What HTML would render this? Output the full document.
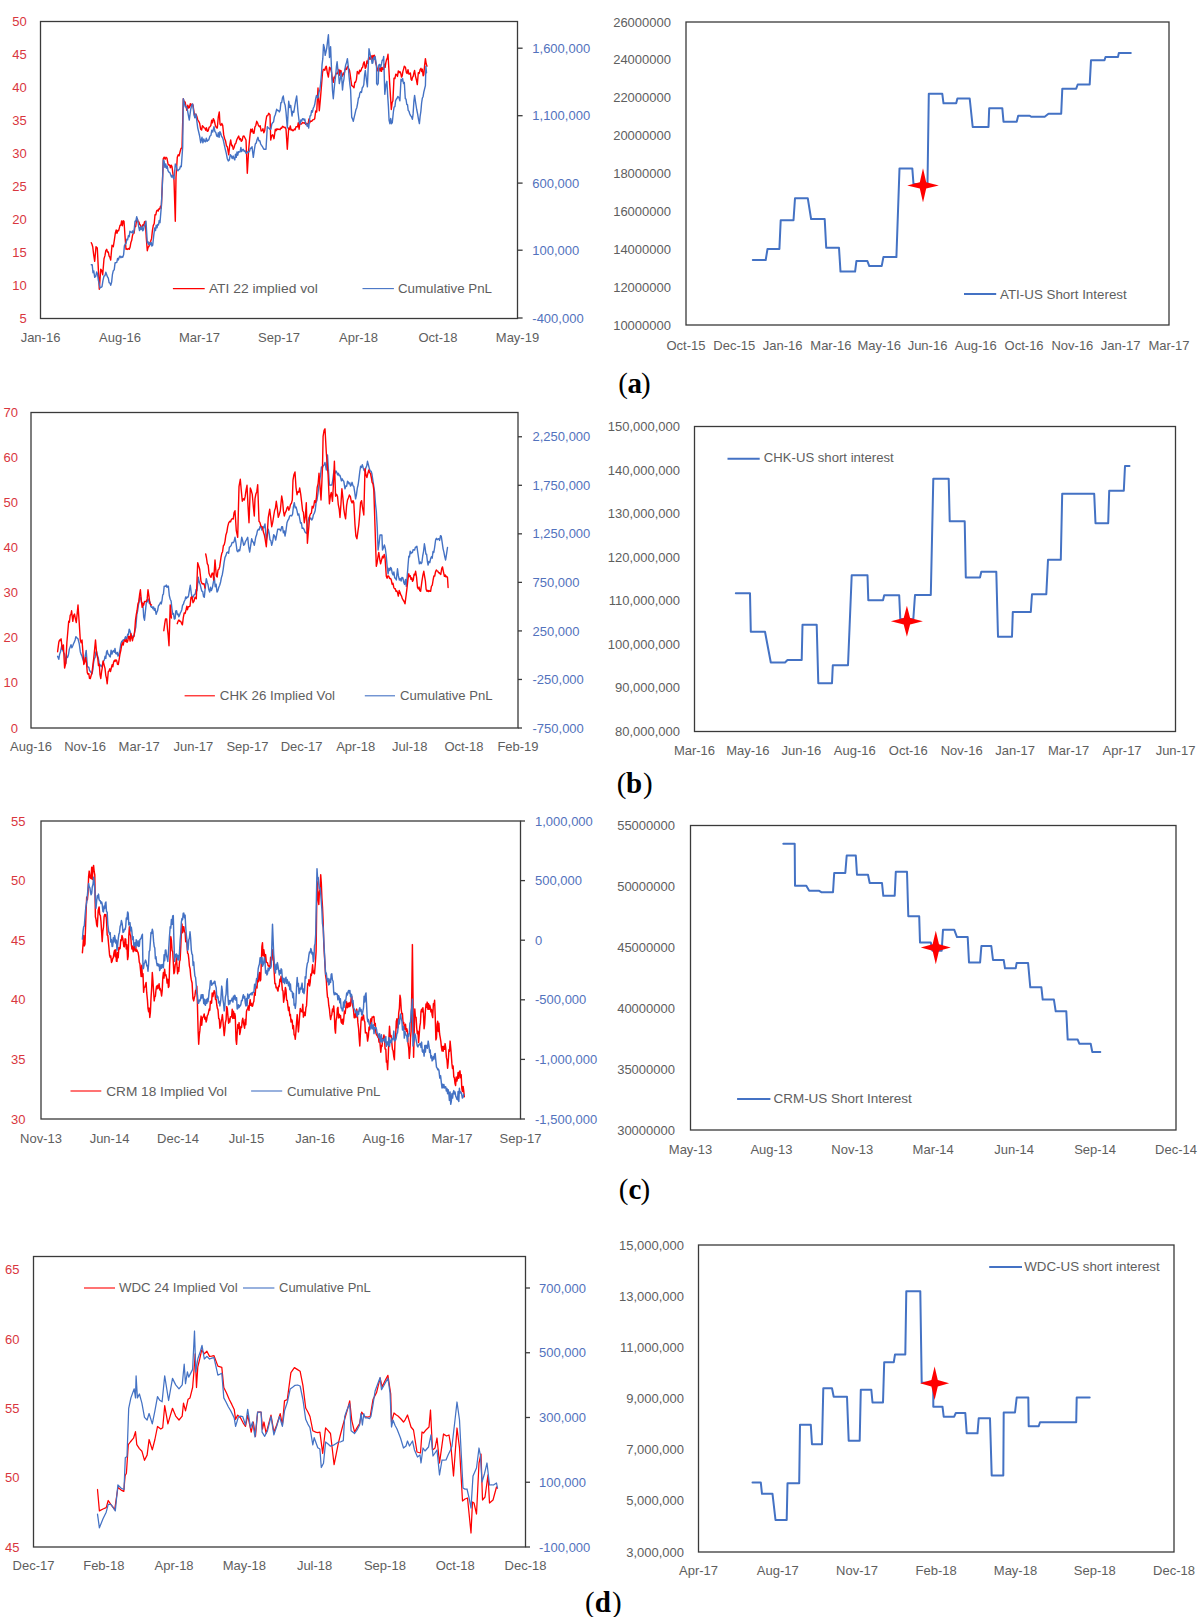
<!DOCTYPE html>
<html><head><meta charset="utf-8"><style>
html,body{margin:0;padding:0;background:#fff;}
svg{display:block;}
</style></head><body>
<svg width="1200" height="1617" viewBox="0 0 1200 1617">
<rect x="0" y="0" width="1200" height="1617" fill="#fff"/>
<rect x="40.5" y="21.5" width="477.0" height="297.0" fill="none" stroke="#3a3a3a" stroke-width="1.3"/>
<text x="26.8" y="26.0" text-anchor="end" fill="#d9363e" font-size="13" font-family="'Liberation Sans', sans-serif" font-weight="normal">50</text>
<text x="26.8" y="59.0" text-anchor="end" fill="#d9363e" font-size="13" font-family="'Liberation Sans', sans-serif" font-weight="normal">45</text>
<text x="26.8" y="92.0" text-anchor="end" fill="#d9363e" font-size="13" font-family="'Liberation Sans', sans-serif" font-weight="normal">40</text>
<text x="26.8" y="125.0" text-anchor="end" fill="#d9363e" font-size="13" font-family="'Liberation Sans', sans-serif" font-weight="normal">35</text>
<text x="26.8" y="158.0" text-anchor="end" fill="#d9363e" font-size="13" font-family="'Liberation Sans', sans-serif" font-weight="normal">30</text>
<text x="26.8" y="191.0" text-anchor="end" fill="#d9363e" font-size="13" font-family="'Liberation Sans', sans-serif" font-weight="normal">25</text>
<text x="26.8" y="224.0" text-anchor="end" fill="#d9363e" font-size="13" font-family="'Liberation Sans', sans-serif" font-weight="normal">20</text>
<text x="26.8" y="257.0" text-anchor="end" fill="#d9363e" font-size="13" font-family="'Liberation Sans', sans-serif" font-weight="normal">15</text>
<text x="26.8" y="290.0" text-anchor="end" fill="#d9363e" font-size="13" font-family="'Liberation Sans', sans-serif" font-weight="normal">10</text>
<text x="26.8" y="323.0" text-anchor="end" fill="#d9363e" font-size="13" font-family="'Liberation Sans', sans-serif" font-weight="normal">5</text>
<line x1="517.5" y1="48.2" x2="522.6" y2="48.2" stroke="#3a3a3a" stroke-width="1.3"/>
<text x="532.3" y="52.8" text-anchor="start" fill="#5272bd" font-size="13" font-family="'Liberation Sans', sans-serif" font-weight="normal">1,600,000</text>
<line x1="517.5" y1="115.7" x2="522.6" y2="115.7" stroke="#3a3a3a" stroke-width="1.3"/>
<text x="532.3" y="120.3" text-anchor="start" fill="#5272bd" font-size="13" font-family="'Liberation Sans', sans-serif" font-weight="normal">1,100,000</text>
<line x1="517.5" y1="183.1" x2="522.6" y2="183.1" stroke="#3a3a3a" stroke-width="1.3"/>
<text x="532.3" y="187.7" text-anchor="start" fill="#5272bd" font-size="13" font-family="'Liberation Sans', sans-serif" font-weight="normal">600,000</text>
<line x1="517.5" y1="250.2" x2="522.6" y2="250.2" stroke="#3a3a3a" stroke-width="1.3"/>
<text x="532.3" y="254.8" text-anchor="start" fill="#5272bd" font-size="13" font-family="'Liberation Sans', sans-serif" font-weight="normal">100,000</text>
<line x1="517.5" y1="318" x2="522.6" y2="318" stroke="#3a3a3a" stroke-width="1.3"/>
<text x="532.3" y="322.6" text-anchor="start" fill="#5272bd" font-size="13" font-family="'Liberation Sans', sans-serif" font-weight="normal">-400,000</text>
<text x="40.5" y="341.5" text-anchor="middle" fill="#5e5e5e" font-size="13" font-family="'Liberation Sans', sans-serif" font-weight="normal">Jan-16</text>
<text x="120.0" y="341.5" text-anchor="middle" fill="#5e5e5e" font-size="13" font-family="'Liberation Sans', sans-serif" font-weight="normal">Aug-16</text>
<text x="199.5" y="341.5" text-anchor="middle" fill="#5e5e5e" font-size="13" font-family="'Liberation Sans', sans-serif" font-weight="normal">Mar-17</text>
<text x="279.0" y="341.5" text-anchor="middle" fill="#5e5e5e" font-size="13" font-family="'Liberation Sans', sans-serif" font-weight="normal">Sep-17</text>
<text x="358.5" y="341.5" text-anchor="middle" fill="#5e5e5e" font-size="13" font-family="'Liberation Sans', sans-serif" font-weight="normal">Apr-18</text>
<text x="438.0" y="341.5" text-anchor="middle" fill="#5e5e5e" font-size="13" font-family="'Liberation Sans', sans-serif" font-weight="normal">Oct-18</text>
<text x="517.5" y="341.5" text-anchor="middle" fill="#5e5e5e" font-size="13" font-family="'Liberation Sans', sans-serif" font-weight="normal">May-19</text>
<polyline points="91.3,242.7 92.0,244.3 92.7,246.7 93.7,254.8 94.7,261.3 96.0,246.7 97.3,248.0 98.3,268.3 99.3,289.3 100.0,279.8 100.7,269.3 101.7,270.5 102.7,274.7 104.0,258.7 104.9,255.9 105.8,250.7 106.7,249.3 107.5,252.1 108.3,251.9 109.1,256.1 109.9,257.2 110.7,260.0 112.0,245.3 113.3,246.7 114.3,240.3 115.3,233.3 116.2,230.0 117.0,233.4 117.8,230.5 118.7,230.7 120.0,225.3 120.8,225.3 121.6,221.0 122.4,225.7 123.2,220.7 124.0,221.3 125.0,236.0 126.0,249.3 126.8,248.8 127.7,249.4 128.5,248.5 129.3,249.3 130.1,247.1 130.9,242.4 131.7,240.3 132.5,235.4 133.3,233.3 134.1,233.1 134.9,226.6 135.7,226.5 136.5,220.6 137.3,218.7 138.1,221.7 138.9,221.9 139.7,224.5 140.5,225.1 141.3,228.0 142.1,227.1 142.9,224.6 143.7,225.5 144.5,221.8 145.3,221.3 146.3,238.0 147.3,250.7 148.2,247.1 149.0,246.4 149.8,243.0 150.7,241.3 151.6,238.4 152.4,230.6 153.3,225.3 154.2,223.7 155.0,214.8 155.8,214.9 156.7,210.7 157.5,210.1 158.2,211.1 159.0,208.6 159.8,209.0 160.5,206.1 161.3,208.0 162.3,184.7 163.3,158.7 164.2,157.2 165.1,159.3 166.0,157.3 167.0,158.3 168.0,164.0 168.8,165.1 169.6,164.9 170.4,167.7 171.2,165.2 172.0,166.7 173.0,174.3 174.0,180.0 175.3,221.3 176.0,177.3 177.3,157.3 178.2,154.8 179.1,155.8 180.0,152.0 181.0,148.5 182.0,148.0 183.3,98.7 184.2,102.2 185.1,102.0 186.0,106.7 186.9,110.4 187.8,105.2 188.7,108.0 189.5,107.4 190.3,103.7 191.2,105.9 192.0,104.0 193.0,105.0 194.0,112.0 194.9,117.4 195.8,114.1 196.7,116.0 197.7,119.8 198.7,121.3 199.7,123.5 200.7,129.3 201.6,130.0 202.4,125.8 203.3,126.7 204.1,127.9 204.9,128.1 205.7,130.2 206.5,127.8 207.3,131.3 208.2,130.8 209.1,127.4 210.0,126.7 210.8,125.6 211.7,120.2 212.5,122.8 213.3,118.7 214.3,120.5 215.3,125.3 216.3,127.5 217.3,128.0 218.3,116.8 219.3,112.0 220.0,124.0 220.9,125.4 221.8,123.5 222.7,125.3 223.7,134.9 224.7,138.7 225.6,141.1 226.4,145.7 227.3,146.7 228.7,154.7 229.7,145.3 230.7,140.0 231.6,145.7 232.4,145.3 233.3,149.3 234.2,147.2 235.0,144.1 235.8,143.4 236.7,140.0 237.7,137.8 238.7,136.0 239.6,139.6 240.4,138.5 241.3,141.3 242.2,140.2 243.1,136.1 244.0,136.0 245.0,138.0 246.0,140.0 247.3,173.3 248.7,149.3 249.7,137.9 250.7,129.3 251.5,131.8 252.3,129.0 253.2,133.0 254.0,133.3 254.9,127.1 255.8,125.5 256.7,121.3 257.6,122.9 258.4,125.4 259.3,126.7 260.2,125.8 261.1,131.0 262.0,130.7 262.9,128.7 263.8,132.7 264.7,130.7 265.7,122.1 266.7,116.0 267.7,115.7 268.7,113.3 270.0,114.7 270.7,140.0 271.7,135.5 272.7,134.7 274.0,138.7 275.3,129.3 276.1,130.7 276.9,128.7 277.7,129.5 278.5,129.1 279.3,129.3 280.1,129.7 280.9,128.0 281.7,128.2 282.5,126.3 283.3,126.7 284.2,127.6 285.1,127.2 286.0,129.3 287.3,149.3 288.7,128.0 289.5,129.4 290.3,125.9 291.1,130.1 291.9,129.5 292.7,130.7 293.5,130.5 294.3,129.1 295.1,129.8 295.9,127.0 296.7,126.7 297.5,126.8 298.3,122.7 299.1,129.2 299.9,122.7 300.7,124.0 301.6,124.0 302.4,122.5 303.3,122.7 304.1,123.3 304.9,122.5 305.7,124.5 306.5,123.3 307.3,124.0 308.1,124.3 308.9,119.0 309.7,122.9 310.5,121.0 311.3,121.3 312.1,120.8 313.0,119.6 313.9,119.5 314.7,118.7 315.7,111.0 316.7,112.0 318.0,88.0 319.3,110.7 320.3,100.1 321.3,88.0 322.5,72.7 323.3,69.4 324.1,69.4 324.8,70.2 325.6,67.2 326.3,66.2 327.4,73.1 328.4,77.0 329.5,67.3 330.5,68.3 331.5,72.0 332.4,79.6 333.3,82.4 334.0,77.1 334.8,77.9 335.5,74.8 336.4,73.2 337.3,73.7 338.2,71.6 338.9,69.5 339.6,75.2 340.3,70.5 341.0,70.6 341.8,76.4 342.5,75.9 343.3,72.9 344.1,74.5 345.0,69.9 345.8,68.3 346.5,69.5 347.3,66.7 348.0,66.2 348.7,69.0 349.4,70.0 350.1,73.8 350.9,80.0 351.7,85.7 352.5,86.1 353.3,86.8 354.0,87.8 354.8,82.2 355.5,82.4 356.4,79.6 357.3,71.5 358.2,72.7 358.9,74.0 359.6,70.1 360.3,71.5 361.0,70.5 361.8,68.1 362.6,67.3 363.4,63.6 364.2,61.8 365.3,68.3 366.1,66.9 366.9,61.0 367.7,63.4 368.5,58.6 369.2,57.2 370.0,59.4 370.7,57.5 371.4,55.9 372.1,59.9 372.9,55.5 373.6,58.7 374.3,55.1 375.0,57.5 375.7,63.0 376.5,65.4 377.2,69.4 377.9,70.9 378.6,67.4 379.3,68.3 380.0,71.0 380.8,67.2 381.5,71.3 382.2,67.5 383.0,69.5 383.7,69.4 384.4,64.1 385.1,67.3 385.8,62.9 386.5,59.9 387.3,58.1 388.0,54.3 388.8,67.7 389.6,82.4 390.5,96.6 391.3,109.5 392.1,102.8 392.9,100.8 394.0,78.1 394.9,78.6 395.8,74.1 396.7,74.8 397.5,76.4 398.3,70.9 399.1,72.7 399.9,71.6 400.7,73.1 401.5,77.0 402.2,75.9 402.9,71.4 403.6,69.1 404.3,66.2 405.4,67.2 406.4,72.7 407.2,73.4 408.0,69.6 408.9,74.1 409.7,73.8 410.4,73.0 411.1,79.4 411.8,80.3 412.5,77.3 413.2,76.4 413.9,72.9 414.6,70.5 415.5,76.5 416.4,79.8 417.3,84.6 418.3,72.7 419.2,73.4 420.1,69.7 421.0,68.3 421.7,71.6 422.4,69.2 423.1,75.8 423.8,74.8 424.6,65.6 425.4,58.6 426.2,63.8 427.0,66.2" fill="none" stroke="#ff0000" stroke-width="1.4" stroke-linejoin="round" stroke-linecap="round" opacity="1.0"/>
<polyline points="91.3,264.7 92.2,264.8 93.0,272.7 93.8,271.0 94.7,277.3 95.7,276.4 96.7,272.0 97.5,274.0 98.3,280.0 99.2,283.7 100.0,288.0 101.0,287.4 102.0,286.7 103.0,280.4 104.0,276.0 104.9,275.9 105.8,272.3 106.7,274.7 107.5,276.9 108.3,278.1 109.1,282.7 109.9,282.9 110.7,285.3 111.6,282.4 112.4,274.7 113.3,270.7 114.2,269.8 115.1,262.7 116.0,262.7 116.8,262.3 117.6,258.4 118.4,259.9 119.2,257.3 120.0,256.0 120.9,257.7 121.8,256.6 122.7,257.3 123.6,254.8 124.4,245.9 125.3,244.0 126.1,243.3 126.8,239.1 127.6,239.8 128.4,235.7 129.2,236.7 129.9,231.3 130.7,232.0 131.6,232.6 132.4,231.0 133.3,233.3 134.2,229.7 135.0,221.2 135.8,221.4 136.7,216.7 137.7,220.7 138.7,226.7 139.5,230.6 140.3,227.1 141.1,229.5 141.9,226.3 142.7,230.7 143.5,229.8 144.3,225.5 145.2,224.4 146.0,221.3 147.3,242.7 148.1,241.8 148.8,244.6 149.6,242.7 150.4,244.7 151.2,242.4 151.9,246.0 152.7,245.3 153.7,235.9 154.7,228.0 155.5,230.6 156.2,225.1 157.0,227.8 157.7,224.5 158.5,225.0 159.2,220.4 160.0,222.7 161.3,206.7 162.3,186.2 163.3,160.0 164.1,161.0 164.9,167.4 165.7,163.9 166.4,168.2 167.2,165.9 168.0,170.7 168.9,172.2 169.8,172.5 170.7,174.7 171.5,177.1 172.3,175.3 173.2,177.8 174.0,178.7 175.3,164.0 176.2,165.8 177.1,169.8 178.0,170.7 178.8,169.6 179.7,169.0 180.5,166.1 181.3,166.7 182.7,146.7 183.3,98.7 184.3,103.3 185.3,106.7 186.3,106.6 187.3,109.3 188.3,114.8 189.3,120.0 190.7,109.3 191.7,105.3 192.7,104.0 194.0,114.7 194.9,117.8 195.8,114.0 196.7,120.0 197.7,127.8 198.7,132.0 199.7,136.3 200.7,142.7 202.0,137.3 202.9,142.8 203.8,139.0 204.7,141.3 205.5,141.8 206.3,138.1 207.1,141.2 207.9,140.2 208.7,140.0 210.0,136.0 210.9,135.5 211.8,130.2 212.7,132.0 214.0,126.7 214.9,131.5 215.8,132.4 216.7,136.0 217.5,136.6 218.3,132.8 219.1,137.3 219.9,131.6 220.7,133.3 221.6,136.6 222.4,137.3 223.3,140.0 224.3,144.9 225.3,149.3 226.3,153.4 227.3,158.7 228.3,160.9 229.3,160.0 230.3,154.6 231.3,156.0 232.2,158.6 233.1,155.9 234.0,158.7 234.8,159.9 235.5,154.1 236.3,157.4 237.0,152.0 237.8,155.2 238.5,151.6 239.3,152.0 240.1,151.9 240.9,147.5 241.7,151.6 242.5,149.7 243.3,149.3 244.2,151.5 245.1,150.8 246.0,153.3 246.9,153.1 247.8,151.7 248.7,152.0 249.5,151.3 250.3,148.3 251.2,148.4 252.0,146.7 253.3,157.3 254.3,150.1 255.3,144.0 256.2,143.0 257.1,139.5 258.0,137.3 258.9,140.9 259.8,140.8 260.7,144.0 261.5,145.3 262.4,146.5 263.2,148.2 264.0,149.3 265.0,149.3 266.0,149.3 267.3,126.7 268.2,127.8 269.1,128.2 270.0,129.3 270.9,129.1 271.8,124.2 272.7,122.7 273.6,121.7 274.4,116.7 275.3,114.7 276.7,109.3 277.6,110.5 278.4,110.4 279.3,112.0 280.1,110.3 280.9,102.6 281.7,102.5 282.5,97.7 283.3,96.0 284.2,102.5 285.1,104.9 286.0,112.0 287.3,128.0 288.7,101.3 289.7,107.5 290.7,105.3 292.0,116.0 292.9,111.2 293.8,112.3 294.7,106.7 295.7,100.7 296.7,96.0 298.0,112.0 299.3,122.7 300.1,124.1 300.9,119.9 301.7,121.1 302.5,118.7 303.3,118.7 304.1,120.3 304.8,119.0 305.6,123.8 306.4,124.0 307.2,126.3 307.9,124.0 308.7,128.0 310.0,116.0 310.8,115.7 311.6,110.6 312.4,112.2 313.2,108.3 314.0,106.7 314.8,104.1 315.7,98.7 316.5,95.4 317.6,98.0 318.3,97.0 319.1,91.7 319.8,90.0 320.6,83.9 321.4,74.8 322.1,64.4 322.8,58.7 323.5,44.5 324.4,47.9 325.2,55.3 326.0,51.9 326.8,47.8 327.6,41.2 328.4,34.8 329.5,57.5 330.6,46.7 331.7,73.8 332.5,90.4 333.3,98.7 334.1,89.5 334.9,81.3 335.6,76.2 336.4,66.7 337.1,61.8 337.8,69.0 338.6,74.4 339.3,83.5 340.4,78.4 341.4,72.7 342.5,90.0 343.2,82.9 344.0,78.8 344.7,70.5 345.6,65.3 346.5,62.6 347.4,58.6 348.2,65.9 349.0,75.9 349.8,83.8 350.6,90.0 351.7,117.1 352.5,118.9 353.3,121.4 354.1,117.7 355.0,113.8 355.9,109.8 356.8,107.7 357.7,103.0 358.4,98.1 359.1,97.5 359.8,93.3 360.6,91.7 361.5,92.4 362.3,87.7 363.1,86.8 363.8,84.6 364.6,74.8 365.3,70.5 366.4,79.6 367.4,86.8 368.2,66.9 369.0,48.8 369.9,53.2 370.7,57.5 371.4,58.9 372.1,63.4 372.8,62.9 373.5,57.8 374.3,59.4 375.0,56.4 375.8,60.6 376.6,68.3 376.6,83.5 377.4,84.9 378.2,83.5 378.8,65.1 379.7,64.4 380.6,67.3 381.5,64.0 382.2,60.2 383.0,60.4 383.7,56.4 384.8,94.3 385.9,84.8 386.9,81.3 387.6,94.4 388.4,106.3 389.1,120.3 389.9,123.7 390.7,118.5 391.5,123.7 392.3,122.5 393.4,111.7 394.1,107.1 394.9,106.7 395.6,100.8 396.3,99.3 397.1,98.3 397.8,96.5 398.9,97.6 399.9,100.8 401.0,79.2 401.8,81.1 402.6,78.4 403.5,83.5 404.3,82.4 405.3,98.7 406.0,99.1 406.8,104.5 407.5,104.6 408.2,110.5 409.0,111.2 409.7,113.8 410.6,115.6 411.5,116.7 412.4,119.3 413.1,113.9 413.9,101.4 414.6,95.4 415.6,102.5 416.7,109.5 417.6,113.9 418.5,119.4 419.4,123.6 420.1,116.6 420.9,111.1 421.6,103.0 422.3,98.3 423.1,96.4 423.8,92.2 424.6,88.8 425.4,85.7 425.9,66.2 426.5,72.7" fill="none" stroke="#4472c4" stroke-width="1.4" stroke-linejoin="round" stroke-linecap="round" opacity="1.0"/>
<line x1="172.9" y1="288.6" x2="204.7" y2="288.6" stroke="#ff0000" stroke-width="1.1"/>
<text x="208.9" y="292.6" text-anchor="start" fill="#5e5e5e" font-size="13" font-family="'Liberation Sans', sans-serif" font-weight="normal" textLength="109" lengthAdjust="spacingAndGlyphs">ATI 22 implied vol</text>
<line x1="362.5" y1="288.6" x2="393.9" y2="288.6" stroke="#4472c4" stroke-width="1.1"/>
<text x="398" y="292.6" text-anchor="start" fill="#5e5e5e" font-size="13" font-family="'Liberation Sans', sans-serif" font-weight="normal" textLength="94" lengthAdjust="spacingAndGlyphs">Cumulative PnL</text>
<rect x="686" y="22" width="483" height="303" fill="none" stroke="#3a3a3a" stroke-width="1.3"/>
<text x="671" y="26.5" text-anchor="end" fill="#5e5e5e" font-size="13" font-family="'Liberation Sans', sans-serif" font-weight="normal">26000000</text>
<text x="671" y="64.4" text-anchor="end" fill="#5e5e5e" font-size="13" font-family="'Liberation Sans', sans-serif" font-weight="normal">24000000</text>
<text x="671" y="102.2" text-anchor="end" fill="#5e5e5e" font-size="13" font-family="'Liberation Sans', sans-serif" font-weight="normal">22000000</text>
<text x="671" y="140.1" text-anchor="end" fill="#5e5e5e" font-size="13" font-family="'Liberation Sans', sans-serif" font-weight="normal">20000000</text>
<text x="671" y="178.0" text-anchor="end" fill="#5e5e5e" font-size="13" font-family="'Liberation Sans', sans-serif" font-weight="normal">18000000</text>
<text x="671" y="215.9" text-anchor="end" fill="#5e5e5e" font-size="13" font-family="'Liberation Sans', sans-serif" font-weight="normal">16000000</text>
<text x="671" y="253.8" text-anchor="end" fill="#5e5e5e" font-size="13" font-family="'Liberation Sans', sans-serif" font-weight="normal">14000000</text>
<text x="671" y="291.6" text-anchor="end" fill="#5e5e5e" font-size="13" font-family="'Liberation Sans', sans-serif" font-weight="normal">12000000</text>
<text x="671" y="329.5" text-anchor="end" fill="#5e5e5e" font-size="13" font-family="'Liberation Sans', sans-serif" font-weight="normal">10000000</text>
<text x="686.0" y="349.5" text-anchor="middle" fill="#5e5e5e" font-size="13" font-family="'Liberation Sans', sans-serif" font-weight="normal">Oct-15</text>
<text x="734.3" y="349.5" text-anchor="middle" fill="#5e5e5e" font-size="13" font-family="'Liberation Sans', sans-serif" font-weight="normal">Dec-15</text>
<text x="782.6" y="349.5" text-anchor="middle" fill="#5e5e5e" font-size="13" font-family="'Liberation Sans', sans-serif" font-weight="normal">Jan-16</text>
<text x="830.9" y="349.5" text-anchor="middle" fill="#5e5e5e" font-size="13" font-family="'Liberation Sans', sans-serif" font-weight="normal">Mar-16</text>
<text x="879.2" y="349.5" text-anchor="middle" fill="#5e5e5e" font-size="13" font-family="'Liberation Sans', sans-serif" font-weight="normal">May-16</text>
<text x="927.5" y="349.5" text-anchor="middle" fill="#5e5e5e" font-size="13" font-family="'Liberation Sans', sans-serif" font-weight="normal">Jun-16</text>
<text x="975.8" y="349.5" text-anchor="middle" fill="#5e5e5e" font-size="13" font-family="'Liberation Sans', sans-serif" font-weight="normal">Aug-16</text>
<text x="1024.1" y="349.5" text-anchor="middle" fill="#5e5e5e" font-size="13" font-family="'Liberation Sans', sans-serif" font-weight="normal">Oct-16</text>
<text x="1072.4" y="349.5" text-anchor="middle" fill="#5e5e5e" font-size="13" font-family="'Liberation Sans', sans-serif" font-weight="normal">Nov-16</text>
<text x="1120.7" y="349.5" text-anchor="middle" fill="#5e5e5e" font-size="13" font-family="'Liberation Sans', sans-serif" font-weight="normal">Jan-17</text>
<text x="1169.0" y="349.5" text-anchor="middle" fill="#5e5e5e" font-size="13" font-family="'Liberation Sans', sans-serif" font-weight="normal">Mar-17</text>
<polyline points="752.8,260.0 765.7,260.0 767.5,249.0 779.4,249.0 780.7,220.3 793.5,220.3 795.0,198.3 807.8,198.3 811.1,219.0 824.7,219.0 826.2,247.8 839.0,247.8 840.5,271.6 855.1,271.6 856.4,261.1 867.4,261.1 869.3,266.1 881.7,266.1 883.4,257.1 896.4,257.1 899.5,168.4 912.3,168.4 913.5,184.0 927.5,184.0 928.8,93.8 942.3,93.8 943.5,103.3 956.2,103.3 957.4,98.5 969.7,98.5 972.7,127.0 988.5,127.0 989.2,108.2 1002.3,108.2 1003.5,121.7 1016.7,121.7 1018.2,115.7 1029.7,115.7 1031.2,116.8 1044.7,116.8 1048.5,113.8 1061.2,113.8 1062.3,88.7 1076.2,88.7 1077.7,84.5 1089.7,84.5 1091.0,60.2 1104.5,60.2 1105.5,57.0 1118.0,57.0 1118.8,53.1 1130.8,53.1" fill="none" stroke="#4472c4" stroke-width="2.0" stroke-linejoin="round" stroke-linecap="round" opacity="1.0"/>
<polygon points="923.0,168.2 926.2,182.2 938.8,185.4 926.2,188.6 923.0,202.6 919.8,188.6 907.2,185.4 919.8,182.2" fill="#ff0000"/>
<line x1="964" y1="294" x2="996.2" y2="294" stroke="#4472c4" stroke-width="2.0"/>
<text x="1000" y="298.5" text-anchor="start" fill="#5e5e5e" font-size="13" font-family="'Liberation Sans', sans-serif" font-weight="normal" textLength="126.7" lengthAdjust="spacingAndGlyphs">ATI-US Short Interest</text>
<text y="393.2" font-family="'Liberation Serif', serif" font-size="29" fill="#000"><tspan x="618.2">(</tspan><tspan x="627.6" font-weight="bold">a</tspan><tspan x="641.1">)</tspan></text>
<rect x="31" y="412.5" width="487" height="315.5" fill="none" stroke="#3a3a3a" stroke-width="1.3"/>
<text x="18" y="417.0" text-anchor="end" fill="#d9363e" font-size="13" font-family="'Liberation Sans', sans-serif" font-weight="normal">70</text>
<text x="18" y="462.1" text-anchor="end" fill="#d9363e" font-size="13" font-family="'Liberation Sans', sans-serif" font-weight="normal">60</text>
<text x="18" y="507.1" text-anchor="end" fill="#d9363e" font-size="13" font-family="'Liberation Sans', sans-serif" font-weight="normal">50</text>
<text x="18" y="552.2" text-anchor="end" fill="#d9363e" font-size="13" font-family="'Liberation Sans', sans-serif" font-weight="normal">40</text>
<text x="18" y="597.3" text-anchor="end" fill="#d9363e" font-size="13" font-family="'Liberation Sans', sans-serif" font-weight="normal">30</text>
<text x="18" y="642.4" text-anchor="end" fill="#d9363e" font-size="13" font-family="'Liberation Sans', sans-serif" font-weight="normal">20</text>
<text x="18" y="687.4" text-anchor="end" fill="#d9363e" font-size="13" font-family="'Liberation Sans', sans-serif" font-weight="normal">10</text>
<text x="18" y="732.5" text-anchor="end" fill="#d9363e" font-size="13" font-family="'Liberation Sans', sans-serif" font-weight="normal">0</text>
<line x1="518" y1="436.76" x2="522" y2="436.76" stroke="#3a3a3a" stroke-width="1.3"/>
<text x="532.5" y="441.4" text-anchor="start" fill="#5272bd" font-size="13" font-family="'Liberation Sans', sans-serif" font-weight="normal">2,250,000</text>
<line x1="518" y1="485.3" x2="522" y2="485.3" stroke="#3a3a3a" stroke-width="1.3"/>
<text x="532.5" y="489.9" text-anchor="start" fill="#5272bd" font-size="13" font-family="'Liberation Sans', sans-serif" font-weight="normal">1,750,000</text>
<line x1="518" y1="533.84" x2="522" y2="533.84" stroke="#3a3a3a" stroke-width="1.3"/>
<text x="532.5" y="538.4" text-anchor="start" fill="#5272bd" font-size="13" font-family="'Liberation Sans', sans-serif" font-weight="normal">1,250,000</text>
<line x1="518" y1="582.38" x2="522" y2="582.38" stroke="#3a3a3a" stroke-width="1.3"/>
<text x="532.5" y="587.0" text-anchor="start" fill="#5272bd" font-size="13" font-family="'Liberation Sans', sans-serif" font-weight="normal">750,000</text>
<line x1="518" y1="630.92" x2="522" y2="630.92" stroke="#3a3a3a" stroke-width="1.3"/>
<text x="532.5" y="635.5" text-anchor="start" fill="#5272bd" font-size="13" font-family="'Liberation Sans', sans-serif" font-weight="normal">250,000</text>
<line x1="518" y1="679.46" x2="522" y2="679.46" stroke="#3a3a3a" stroke-width="1.3"/>
<text x="532.5" y="684.1" text-anchor="start" fill="#5272bd" font-size="13" font-family="'Liberation Sans', sans-serif" font-weight="normal">-250,000</text>
<line x1="518" y1="728.0" x2="522" y2="728.0" stroke="#3a3a3a" stroke-width="1.3"/>
<text x="532.5" y="732.6" text-anchor="start" fill="#5272bd" font-size="13" font-family="'Liberation Sans', sans-serif" font-weight="normal">-750,000</text>
<text x="31.0" y="751.3" text-anchor="middle" fill="#5e5e5e" font-size="13" font-family="'Liberation Sans', sans-serif" font-weight="normal">Aug-16</text>
<text x="85.1" y="751.3" text-anchor="middle" fill="#5e5e5e" font-size="13" font-family="'Liberation Sans', sans-serif" font-weight="normal">Nov-16</text>
<text x="139.2" y="751.3" text-anchor="middle" fill="#5e5e5e" font-size="13" font-family="'Liberation Sans', sans-serif" font-weight="normal">Mar-17</text>
<text x="193.3" y="751.3" text-anchor="middle" fill="#5e5e5e" font-size="13" font-family="'Liberation Sans', sans-serif" font-weight="normal">Jun-17</text>
<text x="247.4" y="751.3" text-anchor="middle" fill="#5e5e5e" font-size="13" font-family="'Liberation Sans', sans-serif" font-weight="normal">Sep-17</text>
<text x="301.6" y="751.3" text-anchor="middle" fill="#5e5e5e" font-size="13" font-family="'Liberation Sans', sans-serif" font-weight="normal">Dec-17</text>
<text x="355.7" y="751.3" text-anchor="middle" fill="#5e5e5e" font-size="13" font-family="'Liberation Sans', sans-serif" font-weight="normal">Apr-18</text>
<text x="409.8" y="751.3" text-anchor="middle" fill="#5e5e5e" font-size="13" font-family="'Liberation Sans', sans-serif" font-weight="normal">Jul-18</text>
<text x="463.9" y="751.3" text-anchor="middle" fill="#5e5e5e" font-size="13" font-family="'Liberation Sans', sans-serif" font-weight="normal">Oct-18</text>
<text x="518.0" y="751.3" text-anchor="middle" fill="#5e5e5e" font-size="13" font-family="'Liberation Sans', sans-serif" font-weight="normal">Feb-19</text>
<polyline points="57.6,656.3 58.8,659.3 59.6,654.4 60.5,651.7 61.7,645.8 62.8,650.5 63.7,652.5 64.6,654.0 65.8,663.3 66.7,656.0 67.5,657.5 68.4,655.0 69.3,649.3 70.2,646.9 71.0,644.7 71.9,647.7 72.8,645.8 73.6,643.5 74.3,642.2 75.1,640.0 75.9,636.6 76.8,637.7 78.0,638.8 79.2,643.5 80.3,651.7 81.1,654.4 81.9,655.9 82.7,658.7 83.6,661.2 84.4,662.2 85.3,655.4 86.2,650.5 87.3,665.7 88.0,667.2 88.8,667.2 89.5,670.3 90.3,671.5 91.2,672.5 92.0,673.8 92.8,669.9 93.5,663.3 94.3,658.7 95.1,657.5 95.9,651.9 96.7,651.7 97.5,655.8 98.2,657.5 99.0,662.2 99.8,665.5 100.5,665.1 101.3,666.8 102.1,665.7 102.9,662.8 103.7,661.0 104.4,659.7 105.1,656.1 105.8,658.4 106.5,652.1 107.2,650.5 108.0,654.2 108.7,654.2 109.5,656.3 110.3,656.9 111.1,650.2 112.0,654.0 112.8,651.3 113.6,650.5 114.3,652.3 115.0,648.5 115.8,653.6 116.5,654.0 117.3,652.4 118.0,656.0 118.8,655.2 120.0,649.3 120.9,643.7 121.8,641.2 122.5,641.4 123.2,639.8 124.0,640.2 124.7,638.8 125.5,636.7 126.2,640.0 127.0,637.7 127.7,634.3 128.4,634.6 129.2,629.1 129.9,630.7 130.8,634.0 131.7,636.5 132.5,636.1 133.2,637.6 134.0,635.3 134.9,631.2 135.8,627.2 136.9,614.3 137.6,611.2 138.4,605.1 139.1,602.1 139.8,596.8 140.6,597.6 141.4,602.0 142.2,602.7 143.0,605.7 143.7,617.0 144.5,620.2 145.4,611.4 146.3,602.7 147.1,602.0 147.8,599.7 148.6,599.2 149.3,603.5 150.1,602.1 150.8,606.4 151.5,607.3 152.2,606.8 152.9,608.9 153.6,606.9 154.3,610.4 155.0,608.5 156.2,614.3 156.9,612.0 157.6,610.7 158.4,606.0 159.1,605.0 159.8,603.9 160.6,602.2 161.3,603.9 162.0,600.3 162.7,595.0 163.4,594.1 164.2,586.1 164.9,586.3 165.6,586.3 166.3,585.0 167.0,587.3 167.7,586.2 168.4,586.3 169.3,595.5 170.2,599.2 171.1,601.0 171.9,608.5 172.7,614.2 173.5,613.6 174.3,619.0 175.1,618.7 175.8,610.9 176.6,610.8 177.4,614.6 178.1,614.0 178.9,616.7 179.6,615.0 180.4,612.7 181.1,611.6 181.8,609.7 182.6,605.2 183.4,604.3 184.2,601.5 185.0,600.0 185.7,596.9 186.4,598.5 187.1,597.1 187.8,597.5 188.5,596.0 189.4,590.3 190.3,585.3 191.3,593.4 192.3,598.7 193.3,596.4 194.3,594.7 195.2,594.1 196.1,589.5 197.0,590.7 198.3,577.3 199.2,582.1 200.1,584.2 201.0,588.0 201.8,591.1 202.7,591.5 203.5,596.5 204.3,597.3 205.3,587.4 206.3,578.7 207.2,582.5 208.0,584.5 208.8,589.6 209.7,592.0 210.6,587.3 211.4,590.5 212.3,588.0 213.3,582.6 214.3,577.3 215.2,586.7 216.1,584.1 217.0,592.0 217.9,590.6 218.8,587.3 219.7,585.3 220.6,582.0 221.4,577.6 222.3,574.7 223.2,569.3 224.1,562.5 225.0,557.3 225.9,555.6 226.8,552.5 227.7,552.0 228.6,553.3 229.4,547.1 230.3,546.7 231.2,545.4 232.1,542.4 233.0,542.7 234.0,541.7 235.0,537.3 236.0,543.0 237.0,550.7 237.9,551.7 238.8,549.7 239.7,550.7 240.7,545.2 241.7,537.3 242.7,540.8 243.7,545.3 244.6,544.3 245.4,541.6 246.3,540.0 247.7,537.3 248.7,546.9 249.7,552.0 250.7,545.3 251.7,538.7 252.6,541.6 253.4,542.3 254.3,545.3 255.7,537.3 256.6,534.8 257.4,530.8 258.3,529.3 259.2,529.8 260.1,526.5 261.0,526.7 261.9,530.1 262.8,526.7 263.7,528.0 265.0,524.0 266.3,540.0 267.3,534.9 268.3,529.3 269.1,533.1 270.0,539.8 270.9,540.8 271.7,545.3 272.7,541.4 273.7,534.7 274.7,536.2 275.7,540.0 276.7,534.7 277.7,529.3 278.7,529.3 279.7,529.3 280.7,530.8 281.7,526.7 282.5,526.7 283.4,532.8 284.2,530.9 285.0,536.0 286.0,530.5 287.0,522.7 287.9,520.3 288.8,519.0 289.7,516.0 290.7,515.4 291.7,516.0 292.6,514.0 293.4,506.8 294.3,502.7 295.2,507.8 296.1,507.1 297.0,510.7 297.9,515.0 298.8,513.9 299.7,518.7 300.5,523.0 301.4,522.8 302.2,528.4 303.0,528.0 304.0,529.3 305.0,532.0 306.0,533.0 307.0,533.3 308.0,521.7 309.0,517.3 309.9,519.0 310.8,518.0 311.7,520.0 312.6,518.6 313.4,514.7 314.3,513.3 315.2,510.5 316.1,502.6 317.0,500.0 317.9,493.8 318.8,486.3 319.7,480.0 320.5,475.6 321.4,467.0 322.5,467.5 323.3,465.5 324.2,465.0 325.0,462.5 326.3,470.0 327.5,455.0 328.4,469.3 329.4,485.0 330.2,485.2 331.1,484.9 331.9,485.0 332.7,480.6 333.6,473.3 334.4,470.0 335.2,473.1 336.1,471.1 336.9,472.5 337.6,474.9 338.4,473.3 339.1,475.6 339.9,475.3 340.6,477.5 341.4,480.9 342.2,478.8 343.0,480.5 343.8,481.3 345.0,488.8 345.8,486.0 346.7,486.2 347.5,481.3 348.3,482.0 349.0,483.9 349.8,482.9 350.5,486.1 351.3,485.0 352.1,482.3 353.0,485.9 353.8,486.3 354.7,492.1 355.6,498.8 356.4,495.1 357.3,488.2 358.1,485.0 358.9,479.2 359.8,471.6 360.6,466.3 361.4,467.5 362.3,464.6 363.1,467.5 364.1,470.5 365.0,471.3 365.8,467.9 366.7,466.0 367.5,461.3 368.4,464.8 369.4,468.8 370.2,471.0 371.1,471.1 371.9,473.8 372.9,480.5 373.8,486.3 374.6,492.0 375.5,504.1 376.3,511.3 377.2,526.9 378.1,550.0 379.1,543.5 380.0,535.0 380.9,535.0 381.9,535.0 382.5,550.0 383.4,547.8 384.4,545.0 385.4,549.0 386.3,556.3 387.2,567.0 388.1,573.8 388.9,568.3 389.8,570.6 390.6,567.5 391.4,568.7 392.3,573.5 393.1,575.0 393.9,572.0 394.7,577.8 395.5,578.3 396.3,580.0 397.5,568.8 398.4,575.9 399.4,580.0 400.2,578.6 401.1,581.0 401.9,577.5 402.9,578.0 403.8,582.5 404.6,584.4 405.5,579.5 406.3,586.3 407.1,577.6 408.0,565.7 408.8,556.3 409.5,556.9 410.2,551.1 410.9,553.6 411.7,552.3 412.4,552.6 413.1,549.6 413.8,550.0 414.6,550.1 415.4,547.1 416.1,547.3 416.9,546.3 417.7,552.0 418.6,558.2 419.4,563.8 420.2,561.9 421.1,563.7 421.9,562.5 422.7,556.0 423.6,551.1 424.4,543.8 425.1,547.8 425.9,554.1 426.6,554.2 427.4,561.5 428.1,565.0 428.9,561.4 429.8,562.6 430.6,558.8 431.4,556.7 432.2,558.2 433.0,551.5 433.8,552.5 434.7,546.8 435.6,540.0 436.4,538.3 437.2,539.7 438.0,538.9 438.8,538.8 439.6,540.4 440.5,535.6 441.3,536.3 442.2,542.6 443.1,548.8 443.9,552.1 444.8,556.8 445.6,560.0 446.6,553.6 447.5,547.5" fill="none" stroke="#4472c4" stroke-width="1.4" stroke-linejoin="round" stroke-linecap="round" opacity="1.0"/>
<polyline points="57.6,651.7 58.8,642.3 59.6,640.0 60.3,640.6 61.1,638.8 62.3,649.3 63.4,645.0 64.6,668.0 65.8,663.0 66.9,642.3 67.8,631.7 68.7,621.3 69.4,622.3 70.2,615.3 70.9,614.6 71.6,610.8 72.8,621.3 73.7,615.4 74.5,614.0 75.4,618.9 76.3,622.5 77.2,613.5 78.0,605.0 79.2,622.5 80.3,640.0 81.2,642.7 82.0,640.0 82.9,651.7 83.8,664.5 84.7,662.2 85.6,657.5 86.4,662.2 87.3,672.7 88.0,674.2 88.8,673.5 89.5,678.3 90.3,678.5 91.2,675.2 92.0,672.7 92.9,665.2 93.8,657.5 94.7,648.6 95.5,640.0 96.7,654.0 97.8,658.7 98.5,665.6 99.3,664.5 100.0,674.7 100.8,678.5 101.6,671.7 102.3,667.7 103.1,661.0 104.3,665.7 105.0,668.4 105.8,675.6 106.5,678.3 107.2,683.8 108.3,671.5 109.0,671.1 109.8,668.8 110.5,671.5 111.3,668.0 112.1,664.8 112.8,666.8 113.6,662.2 114.4,660.2 115.1,661.5 115.9,659.8 116.7,660.7 117.5,664.4 118.3,664.5 119.2,659.1 120.0,654.0 120.9,650.0 121.8,644.7 122.5,642.6 123.2,645.0 124.0,641.2 124.7,640.0 125.5,641.4 126.2,639.4 127.0,642.3 127.8,640.8 128.5,636.3 129.3,636.5 130.1,641.1 130.9,633.5 131.7,637.7 132.5,640.7 133.2,636.8 134.0,636.5 134.8,629.8 135.5,620.1 136.3,614.3 137.1,610.5 137.9,604.0 138.8,601.4 139.6,594.5 140.4,589.8 141.3,600.3 142.2,607.3 143.0,603.5 143.7,605.2 144.5,601.5 145.4,601.5 146.3,601.5 147.2,598.9 148.0,589.8 148.9,595.8 149.8,602.7 150.7,604.6 151.5,605.0" fill="none" stroke="#ff0000" stroke-width="1.4" stroke-linejoin="round" stroke-linecap="round" opacity="1.0"/>
<polyline points="163.8,630.7 164.7,624.1 165.5,619.0 166.7,619.0 167.5,629.1 168.2,635.4 169.0,645.8 170.2,605.0 171.4,618.0" fill="none" stroke="#ff0000" stroke-width="1.4" stroke-linejoin="round" stroke-linecap="round" opacity="1.0"/>
<polyline points="177.2,623.7 178.1,621.2 179.0,620.0 179.8,621.3 180.7,621.3 181.6,623.6 182.4,624.8 183.3,617.6 184.2,613.0 185.1,613.5 186.0,610.0 186.8,606.3 187.5,609.7 188.2,606.8 189.0,606.7 190.0,606.2 191.0,597.3 192.0,596.8 193.0,602.7 194.0,601.2 195.0,597.3 196.3,598.7 197.7,562.7 198.7,565.9 199.7,569.3 201.0,581.3 202.0,583.5 203.0,584.0 204.0,583.7 205.0,588.0" fill="none" stroke="#ff0000" stroke-width="1.4" stroke-linejoin="round" stroke-linecap="round" opacity="1.0"/>
<polyline points="205.7,554.0 206.5,558.0 207.3,563.7 208.2,565.4 209.0,573.3 210.0,575.8 211.0,577.3 212.0,573.3 213.0,573.3 213.7,580.0 215.0,560.0 216.3,576.0 217.2,576.9 218.0,570.0 218.8,569.4 219.7,566.7 221.0,557.3 221.8,553.3 222.6,551.7 223.4,545.5 224.2,544.9 225.0,541.3 225.9,534.9 226.8,532.3 227.7,526.7 228.7,522.8 229.7,521.3 230.6,521.8 231.4,519.4 232.3,518.7 233.2,519.0 234.1,512.6 235.0,510.7 236.3,530.7 237.7,537.3 239.0,486.7 240.3,479.3 241.3,490.6 242.3,501.3 243.3,498.7 244.3,500.0 245.2,496.4 246.1,489.9 247.0,485.3 248.0,505.6 249.0,522.7 250.3,488.0 251.3,490.6 252.3,494.7 253.3,506.2 254.3,516.0 255.0,498.7 255.9,494.0 256.8,491.7 257.7,484.7 259.0,521.3 259.9,522.4 260.8,525.8 261.7,526.7 262.6,527.9 263.4,532.1 264.3,534.7 265.3,540.2 266.3,546.7 267.3,533.0 268.3,517.3 269.7,509.3 270.7,517.6 271.7,526.7 272.7,522.4 273.7,516.0 274.6,510.5 275.4,508.3 276.3,501.3 277.3,508.6 278.3,517.3 279.3,514.3 280.3,510.7 281.7,496.0 282.6,501.0 283.4,510.6 284.3,516.0 285.2,512.9 286.1,511.2 287.0,508.0 287.9,506.6 288.8,510.2 289.7,508.0 290.6,504.2 291.4,503.4 292.3,500.0 293.0,480.0 294.0,474.5 295.0,472.0 296.0,487.3 297.0,494.7 297.9,491.6 298.8,492.3 299.7,488.0 300.7,494.2 301.7,502.7 302.6,510.7 303.4,512.3 304.3,522.7 305.3,517.0 306.3,502.7 307.4,543.3 308.2,533.5 308.9,526.0 309.7,516.0 310.5,513.8 311.4,513.1 312.2,506.3 313.0,508.0 313.8,505.8 314.6,500.6 315.5,502.5 316.3,498.7 317.2,487.3 318.1,483.7 319.0,473.3 320.0,485.7 321.0,500.0 321.8,483.7 322.5,467.0 323.1,436.3 324.1,430.4 325.0,428.8 326.3,452.5 327.2,464.0 328.1,475.0 329.4,503.8 330.4,495.8 331.3,492.5 332.5,501.3 333.4,484.2 334.4,461.3 335.6,496.3 336.6,494.3 337.5,496.3 338.3,504.6 339.2,509.0 340.0,517.5 340.9,504.6 341.9,488.8 342.9,498.0 343.8,508.8 344.7,514.9 345.6,518.8 346.6,505.6 347.5,500.0 348.4,498.0 349.4,495.0 350.4,496.6 351.3,501.3 352.1,502.9 353.0,500.6 353.8,502.5 355.0,525.0 355.9,536.1 356.9,538.8 357.9,531.6 358.8,525.0 359.7,514.6 360.6,502.5 361.6,500.7 362.5,507.5 363.8,515.0 365.0,468.8 365.9,474.8 366.9,477.5 367.9,473.2 368.8,470.0 369.6,472.6 370.5,473.5 371.3,477.5 372.1,482.4 373.0,483.9 373.8,490.0 375.0,526.3 376.3,566.3 377.1,563.0 378.0,556.6 378.8,552.5 379.7,559.0 380.6,563.8 381.6,559.8 382.5,556.3 383.3,557.9 384.2,554.4 385.0,557.5 386.3,576.3 387.1,578.2 388.0,575.8 388.8,576.3 389.6,578.5 390.5,578.4 391.3,580.0 392.1,584.2 393.0,583.3 393.8,587.5 394.5,588.7 395.3,588.6 396.0,591.4 396.8,590.9 397.5,592.5 398.3,596.1 399.2,590.4 400.0,592.5 400.8,594.9 401.6,596.2 402.3,598.6 403.1,600.0 404.1,601.5 405.0,603.8 405.9,597.0 406.9,588.8 407.9,579.6 408.8,573.8 409.5,576.6 410.3,575.8 411.0,579.3 411.8,577.8 412.5,581.3 413.3,579.9 414.1,574.1 414.8,574.9 415.6,571.3 416.6,577.7 417.5,587.5 418.3,589.0 419.1,587.1 419.8,590.7 420.6,591.3 421.9,581.3 422.9,575.1 423.8,571.3 424.6,576.4 425.4,581.0 426.1,589.2 426.9,591.3 427.6,590.3 428.4,591.6 429.1,590.5 429.9,591.4 430.6,591.3 431.4,586.3 432.3,585.1 433.1,580.0 433.9,576.0 434.7,576.0 435.5,572.0 436.3,570.0 437.0,570.8 437.8,571.1 438.5,572.8 439.3,572.7 440.0,573.8 440.8,574.4 441.7,568.6 442.5,566.9 443.4,571.6 444.4,576.3 445.2,574.9 445.9,576.9 446.7,576.3 447.5,577.5 448.1,587.5" fill="none" stroke="#ff0000" stroke-width="1.4" stroke-linejoin="round" stroke-linecap="round" opacity="1.0"/>
<line x1="184.6" y1="695.8" x2="214.9" y2="695.8" stroke="#ff0000" stroke-width="1.1"/>
<text x="219.8" y="699.9" text-anchor="start" fill="#5e5e5e" font-size="13" font-family="'Liberation Sans', sans-serif" font-weight="normal" textLength="115.2" lengthAdjust="spacingAndGlyphs">CHK 26 Implied Vol</text>
<line x1="364.8" y1="695.8" x2="395" y2="695.8" stroke="#4472c4" stroke-width="1.1"/>
<text x="400" y="699.9" text-anchor="start" fill="#5e5e5e" font-size="13" font-family="'Liberation Sans', sans-serif" font-weight="normal" textLength="92.6" lengthAdjust="spacingAndGlyphs">Cumulative PnL</text>
<rect x="694.5" y="426.5" width="481.0" height="305.0" fill="none" stroke="#3a3a3a" stroke-width="1.3"/>
<text x="680" y="431.0" text-anchor="end" fill="#5e5e5e" font-size="13" font-family="'Liberation Sans', sans-serif" font-weight="normal">150,000,000</text>
<text x="680" y="474.6" text-anchor="end" fill="#5e5e5e" font-size="13" font-family="'Liberation Sans', sans-serif" font-weight="normal">140,000,000</text>
<text x="680" y="518.1" text-anchor="end" fill="#5e5e5e" font-size="13" font-family="'Liberation Sans', sans-serif" font-weight="normal">130,000,000</text>
<text x="680" y="561.7" text-anchor="end" fill="#5e5e5e" font-size="13" font-family="'Liberation Sans', sans-serif" font-weight="normal">120,000,000</text>
<text x="680" y="605.3" text-anchor="end" fill="#5e5e5e" font-size="13" font-family="'Liberation Sans', sans-serif" font-weight="normal">110,000,000</text>
<text x="680" y="648.9" text-anchor="end" fill="#5e5e5e" font-size="13" font-family="'Liberation Sans', sans-serif" font-weight="normal">100,000,000</text>
<text x="680" y="692.4" text-anchor="end" fill="#5e5e5e" font-size="13" font-family="'Liberation Sans', sans-serif" font-weight="normal">90,000,000</text>
<text x="680" y="736.0" text-anchor="end" fill="#5e5e5e" font-size="13" font-family="'Liberation Sans', sans-serif" font-weight="normal">80,000,000</text>
<text x="694.5" y="755" text-anchor="middle" fill="#5e5e5e" font-size="13" font-family="'Liberation Sans', sans-serif" font-weight="normal">Mar-16</text>
<text x="747.9" y="755" text-anchor="middle" fill="#5e5e5e" font-size="13" font-family="'Liberation Sans', sans-serif" font-weight="normal">May-16</text>
<text x="801.4" y="755" text-anchor="middle" fill="#5e5e5e" font-size="13" font-family="'Liberation Sans', sans-serif" font-weight="normal">Jun-16</text>
<text x="854.8" y="755" text-anchor="middle" fill="#5e5e5e" font-size="13" font-family="'Liberation Sans', sans-serif" font-weight="normal">Aug-16</text>
<text x="908.3" y="755" text-anchor="middle" fill="#5e5e5e" font-size="13" font-family="'Liberation Sans', sans-serif" font-weight="normal">Oct-16</text>
<text x="961.7" y="755" text-anchor="middle" fill="#5e5e5e" font-size="13" font-family="'Liberation Sans', sans-serif" font-weight="normal">Nov-16</text>
<text x="1015.2" y="755" text-anchor="middle" fill="#5e5e5e" font-size="13" font-family="'Liberation Sans', sans-serif" font-weight="normal">Jan-17</text>
<text x="1068.6" y="755" text-anchor="middle" fill="#5e5e5e" font-size="13" font-family="'Liberation Sans', sans-serif" font-weight="normal">Mar-17</text>
<text x="1122.1" y="755" text-anchor="middle" fill="#5e5e5e" font-size="13" font-family="'Liberation Sans', sans-serif" font-weight="normal">Apr-17</text>
<text x="1175.5" y="755" text-anchor="middle" fill="#5e5e5e" font-size="13" font-family="'Liberation Sans', sans-serif" font-weight="normal">Jun-17</text>
<polyline points="735.8,593.3 750.0,593.3 750.8,631.7 765.0,631.7 770.8,662.5 785.0,662.5 787.5,660.0 801.7,660.0 802.5,624.7 816.7,624.7 818.3,683.3 832.0,683.3 832.8,665.3 848.0,665.3 851.7,575.3 867.5,575.3 868.3,600.3 883.0,600.3 884.2,595.3 899.2,595.3 900.3,619.2 913.3,619.2 915.0,595.0 930.8,595.0 933.3,478.7 948.7,478.7 949.7,521.3 964.7,521.3 965.8,577.5 980.0,577.5 981.3,571.7 996.3,571.7 998.0,636.7 1012.0,636.7 1012.8,612.0 1030.8,612.0 1032.0,594.2 1046.3,594.2 1048.0,559.7 1060.8,559.7 1062.2,493.7 1094.2,493.8 1095.5,523.2 1108.2,523.2 1109.2,490.8 1123.8,490.8 1125.0,466.0 1129.5,466.0" fill="none" stroke="#4472c4" stroke-width="2.0" stroke-linejoin="round" stroke-linecap="round" opacity="1.0"/>
<polygon points="906.9,605.8 910.1,618.1 922.9,621.3 910.1,624.5 906.9,636.8 903.7,624.5 890.9,621.3 903.7,618.1" fill="#ff0000"/>
<line x1="727.5" y1="458.7" x2="759.7" y2="458.7" stroke="#4472c4" stroke-width="2.0"/>
<text x="763.8" y="462.2" text-anchor="start" fill="#5e5e5e" font-size="13" font-family="'Liberation Sans', sans-serif" font-weight="normal" textLength="129.9" lengthAdjust="spacingAndGlyphs">CHK-US short interest</text>
<text y="792.9" font-family="'Liberation Serif', serif" font-size="29" fill="#000"><tspan x="616.7">(</tspan><tspan x="626.1" font-weight="bold">b</tspan><tspan x="643.1">)</tspan></text>
<rect x="41" y="821" width="479.5" height="298" fill="none" stroke="#3a3a3a" stroke-width="1.3"/>
<text x="25.5" y="825.5" text-anchor="end" fill="#d9363e" font-size="13" font-family="'Liberation Sans', sans-serif" font-weight="normal">55</text>
<text x="25.5" y="885.1" text-anchor="end" fill="#d9363e" font-size="13" font-family="'Liberation Sans', sans-serif" font-weight="normal">50</text>
<text x="25.5" y="944.7" text-anchor="end" fill="#d9363e" font-size="13" font-family="'Liberation Sans', sans-serif" font-weight="normal">45</text>
<text x="25.5" y="1004.3" text-anchor="end" fill="#d9363e" font-size="13" font-family="'Liberation Sans', sans-serif" font-weight="normal">40</text>
<text x="25.5" y="1063.9" text-anchor="end" fill="#d9363e" font-size="13" font-family="'Liberation Sans', sans-serif" font-weight="normal">35</text>
<text x="25.5" y="1123.5" text-anchor="end" fill="#d9363e" font-size="13" font-family="'Liberation Sans', sans-serif" font-weight="normal">30</text>
<line x1="520.5" y1="821.0" x2="525" y2="821.0" stroke="#3a3a3a" stroke-width="1.3"/>
<text x="535" y="825.6" text-anchor="start" fill="#5272bd" font-size="13" font-family="'Liberation Sans', sans-serif" font-weight="normal">1,000,000</text>
<line x1="520.5" y1="880.6" x2="525" y2="880.6" stroke="#3a3a3a" stroke-width="1.3"/>
<text x="535" y="885.2" text-anchor="start" fill="#5272bd" font-size="13" font-family="'Liberation Sans', sans-serif" font-weight="normal">500,000</text>
<line x1="520.5" y1="940.2" x2="525" y2="940.2" stroke="#3a3a3a" stroke-width="1.3"/>
<text x="535" y="944.8" text-anchor="start" fill="#5272bd" font-size="13" font-family="'Liberation Sans', sans-serif" font-weight="normal">0</text>
<line x1="520.5" y1="999.8" x2="525" y2="999.8" stroke="#3a3a3a" stroke-width="1.3"/>
<text x="535" y="1004.4" text-anchor="start" fill="#5272bd" font-size="13" font-family="'Liberation Sans', sans-serif" font-weight="normal">-500,000</text>
<line x1="520.5" y1="1059.4" x2="525" y2="1059.4" stroke="#3a3a3a" stroke-width="1.3"/>
<text x="535" y="1064.0" text-anchor="start" fill="#5272bd" font-size="13" font-family="'Liberation Sans', sans-serif" font-weight="normal">-1,000,000</text>
<line x1="520.5" y1="1119.0" x2="525" y2="1119.0" stroke="#3a3a3a" stroke-width="1.3"/>
<text x="535" y="1123.6" text-anchor="start" fill="#5272bd" font-size="13" font-family="'Liberation Sans', sans-serif" font-weight="normal">-1,500,000</text>
<text x="41.0" y="1143" text-anchor="middle" fill="#5e5e5e" font-size="13" font-family="'Liberation Sans', sans-serif" font-weight="normal">Nov-13</text>
<text x="109.5" y="1143" text-anchor="middle" fill="#5e5e5e" font-size="13" font-family="'Liberation Sans', sans-serif" font-weight="normal">Jun-14</text>
<text x="178.0" y="1143" text-anchor="middle" fill="#5e5e5e" font-size="13" font-family="'Liberation Sans', sans-serif" font-weight="normal">Dec-14</text>
<text x="246.5" y="1143" text-anchor="middle" fill="#5e5e5e" font-size="13" font-family="'Liberation Sans', sans-serif" font-weight="normal">Jul-15</text>
<text x="315.0" y="1143" text-anchor="middle" fill="#5e5e5e" font-size="13" font-family="'Liberation Sans', sans-serif" font-weight="normal">Jan-16</text>
<text x="383.5" y="1143" text-anchor="middle" fill="#5e5e5e" font-size="13" font-family="'Liberation Sans', sans-serif" font-weight="normal">Aug-16</text>
<text x="452.0" y="1143" text-anchor="middle" fill="#5e5e5e" font-size="13" font-family="'Liberation Sans', sans-serif" font-weight="normal">Mar-17</text>
<text x="520.5" y="1143" text-anchor="middle" fill="#5e5e5e" font-size="13" font-family="'Liberation Sans', sans-serif" font-weight="normal">Sep-17</text>
<polyline points="82.4,952.7 83.1,943.6 83.7,935.4 84.3,945.9 85.0,944.0 86.1,910.7 86.7,897.1 87.4,899.7 88.0,893.3 88.6,876.7 89.2,871.1 90.1,877.7 91.0,878.5 91.7,867.3 92.3,879.5 92.9,868.4 93.6,865.5 94.2,871.7 94.8,874.8 95.4,916.8 96.0,919.2 96.7,925.1 97.3,926.7 98.2,910.1 99.1,906.9 99.7,914.4 100.4,915.7 101.0,921.8 101.6,931.8 102.2,941.6 102.8,931.6 103.5,927.0 104.1,916.8 104.7,914.5 105.3,915.9 105.9,914.4 106.5,919.9 107.2,935.1 107.8,935.4 108.7,945.2 109.6,955.2 110.2,957.4 110.8,956.0 111.5,962.5 112.1,961.4 112.7,958.5 113.3,957.7 114.0,952.6 114.6,950.2 115.2,956.7 115.8,949.8 116.4,961.3 117.0,961.4 117.6,952.5 118.2,957.8 118.9,947.5 119.5,949.0 120.1,948.4 120.8,939.8 121.4,940.7 122.0,935.4 122.9,938.8 123.8,946.5 124.4,946.7 125.1,938.8 125.7,939.1 126.3,948.9 126.9,944.8 127.6,959.6 128.2,956.4 128.8,935.8 129.4,926.7 130.0,934.3 130.7,935.7 131.3,944.1 131.9,949.0 132.5,946.1 133.2,951.7 133.8,946.9 134.4,946.5 135.0,950.8 135.6,944.6 136.2,951.3 136.9,950.0 137.5,951.7 138.1,952.7 138.7,956.1 139.3,962.3 139.9,963.6 140.5,970.0 141.1,976.5 141.8,965.2 142.4,976.6 143.0,973.7 143.6,992.3 144.2,987.5 144.8,987.4 145.5,984.7 146.1,982.4 146.7,992.7 147.4,999.4 148.0,1008.4 148.6,1011.7 149.2,1008.1 149.8,1017.5 150.4,1012.1 151.0,998.4 151.7,987.2 152.3,972.5 152.9,980.4 153.6,991.8 154.2,1000.9 154.8,996.7 155.4,996.3 156.0,989.8 156.6,986.1 157.2,988.7 157.8,985.2 158.4,988.0 159.1,983.8 159.7,989.9 160.3,988.6 160.9,991.2 161.6,996.0 162.2,990.6 162.8,977.9 163.4,972.5 164.0,978.1 164.6,969.2 165.3,975.5 165.9,974.7 166.5,977.4 167.1,983.1 167.8,979.3 168.4,987.5 169.0,986.1 169.6,965.8 170.2,955.0 170.8,936.6 171.4,940.2 172.1,950.8 172.7,951.5 173.3,962.3 173.9,973.7 174.5,972.3 175.2,964.6 175.8,963.7 176.4,957.7 177.6,973.7 178.2,967.7 178.8,971.4 179.5,961.6 180.1,960.1 180.8,946.0 181.4,931.7 182.0,924.0 182.6,932.8 183.2,926.9 183.8,926.7 184.4,931.9 185.1,932.3 185.7,941.8 186.3,940.3 186.9,943.0 187.6,953.2 188.2,953.9 188.8,958.8 189.4,965.8 190.1,968.9 190.7,976.0 191.3,979.9 192.1,983.0 192.9,998.2 193.7,1000.9 194.3,997.8 194.9,995.7 195.6,990.3 196.2,990.0 196.8,986.1 197.4,1003.1 198.1,1030.8 198.7,1044.2 199.3,1034.9 199.9,1030.4 200.5,1022.0 201.1,1016.1 201.7,1025.3 202.4,1018.0 203.0,1017.1 203.6,1015.8 204.2,1014.0 204.8,1019.1 205.5,1017.2 206.1,1022.0 206.7,1019.7 207.3,1015.7 208.0,1014.7 208.6,1012.1 209.2,1009.1 209.8,1010.3 210.4,1001.3 211.0,1003.4 211.6,1002.9 212.2,993.0 212.9,996.5 213.5,993.5 214.2,990.6 214.9,992.3 215.5,999.4 216.2,999.3 216.8,1005.2 217.4,1008.4 218.0,1009.8 218.7,1018.7 219.3,1019.0 219.9,1028.2 220.5,1026.8 221.2,1020.9 221.8,1018.4 222.4,1014.6 223.3,1024.7 224.2,1035.6 224.8,1030.3 225.4,1022.5 226.1,1019.6 226.7,1006.6 227.3,1008.4 227.9,1015.9 228.6,1023.2 229.2,1019.0 229.8,1022.1 230.4,1016.8 231.0,1017.1 231.6,1016.9 232.2,1009.3 232.8,1018.4 233.5,1011.3 234.1,1018.3 234.7,1013.4 235.3,1016.5 236.0,1039.6 236.6,1044.3 237.2,1033.3 237.8,1024.5 238.4,1028.3 239.1,1022.6 239.7,1034.5 240.3,1031.9 240.9,1026.6 241.6,1027.4 242.2,1020.6 242.8,1018.3 243.7,1024.2 244.6,1028.2 245.2,1019.5 245.8,1024.7 246.5,1011.2 247.1,1009.6 247.7,1008.5 248.3,1005.9 249.0,1010.4 249.6,1003.4 250.2,999.6 250.8,1005.3 251.5,1003.5 252.1,1006.3 252.7,1005.9 253.3,1002.7 253.9,1001.2 254.5,992.7 255.2,995.2 255.8,985.9 256.4,987.4 257.0,988.0 257.6,979.6 258.3,981.7 258.9,975.0 259.5,972.5 260.1,981.0 260.7,980.0 261.9,946.6 262.5,942.7 263.1,955.8 263.8,949.7 264.4,954.0 265.0,962.3 265.6,954.6 266.3,962.0 266.9,962.6 267.5,962.6 268.1,965.7 268.8,965.8 269.4,967.6 270.0,967.9 270.6,957.3 271.2,958.9 271.8,960.2 272.5,949.8 273.1,951.5 274.0,969.3 274.9,983.7 275.5,983.4 276.1,987.8 276.8,987.3 277.4,989.7 278.0,991.1 278.6,986.1 279.2,986.5 279.9,979.3 280.5,981.5 281.1,976.2 281.7,982.4 282.4,990.2 283.0,991.0 283.6,1002.2 284.5,996.6 285.4,987.4 286.0,990.1 286.6,1000.1 287.3,1000.5 287.9,1005.9 288.5,1010.6 289.1,1007.1 289.8,1015.7 290.4,1014.4 291.0,1022.0 291.6,1019.5 292.2,1020.8 292.8,1028.8 293.5,1025.6 294.1,1034.7 294.7,1035.5 295.3,1039.3 295.9,1031.9 296.6,1021.8 297.2,1014.6 298.4,1031.9 299.0,1024.8 299.7,1014.6 300.3,1008.4 300.9,1011.4 301.5,1010.5 302.1,1012.1 302.8,1004.3 303.4,1017.1 304.0,1014.6 304.6,1012.3 305.2,1015.6 305.9,1007.8 306.5,1005.9 307.7,983.7 308.3,984.8 308.9,979.8 309.6,986.0 310.2,982.4 310.8,974.1 311.4,975.5 312.0,971.3 312.6,964.7 313.2,973.0 313.9,971.1 314.5,973.8 315.3,963.7 316.1,951.5 317.0,881.0 317.6,885.5 318.2,900.0 318.8,904.5 319.4,891.9 320.1,889.3 320.7,874.8 321.3,883.0 321.9,898.0 322.5,907.0 323.1,920.6 323.8,944.1 325.0,965.1 325.6,975.3 326.3,979.6 326.9,989.9 327.5,997.3 328.1,998.0 328.8,1005.7 329.4,1008.8 330.0,1015.1 330.6,1019.5 331.2,1016.3 331.8,1014.7 332.5,1009.1 333.1,1011.5 333.7,1005.9 334.3,1012.9 334.9,1028.6 335.5,1033.1 336.1,1020.6 336.8,1017.0 337.4,1008.4 338.0,1007.3 338.6,1017.9 339.2,1014.2 339.9,1017.5 340.5,1015.4 341.1,1022.0 341.7,1023.2 342.4,1019.2 343.0,1024.3 343.6,1020.8 344.4,1011.1 345.2,1013.5 346.0,1005.9 346.6,1001.8 347.3,1007.7 347.9,1003.4 348.6,1006.9 349.2,1002.5 349.9,1006.5 350.5,1005.5 351.2,997.5 351.8,996.6 352.6,1005.3 353.4,1009.1 354.2,1017.6 354.8,1017.8 355.4,1013.7 356.1,1017.1 356.7,1009.1 357.3,1013.9 357.9,1022.9 358.6,1028.5 359.2,1038.0 359.8,1046.0 361.0,1021.3 361.6,1017.1 362.2,1020.0 362.9,1016.4 363.5,1015.1 364.1,1020.3 364.8,1022.0 365.4,1032.9 366.0,1032.4 366.8,1032.9 367.6,1041.1 368.4,1036.2 369.0,1027.3 369.6,1029.9 370.3,1021.4 370.9,1018.8 371.5,1023.5 372.1,1017.1 372.8,1017.3 373.4,1016.4 374.0,1016.9 374.6,1025.2 375.3,1023.5 375.9,1032.8 376.5,1034.9 377.1,1034.4 377.7,1037.0 378.4,1036.6 379.0,1042.1 379.6,1038.6 380.8,1052.2 381.4,1045.6 382.0,1046.5 382.7,1038.5 383.3,1040.6 383.9,1034.9 384.5,1038.2 385.1,1049.0 385.8,1049.1 386.4,1062.1 387.0,1061.0 387.6,1069.6 388.2,1057.8 388.9,1039.0 389.5,1026.3 390.3,1036.5 391.1,1035.6 391.9,1043.6 392.5,1049.5 393.1,1050.6 393.8,1056.7 394.4,1059.7 395.0,1040.8 395.7,1034.8 396.3,1021.3 396.9,1018.8 397.5,1028.1 398.1,1027.5 398.7,1013.1 399.4,1008.1 400.0,995.3 400.6,998.9 401.2,1009.3 401.8,1013.9 402.4,1013.4 403.1,1023.3 403.7,1022.3 404.3,1027.5 404.9,1029.2 405.5,1024.3 406.2,1031.3 406.8,1028.8 407.4,1031.2 408.0,1043.2 408.7,1047.8 409.3,1058.4 409.9,1051.6 410.5,1038.1 411.1,1031.2 411.8,991.0 412.4,944.6 413.0,994.7 413.6,1057.2 414.8,1009.0 415.4,1017.0 416.1,1017.4 416.7,1028.0 417.3,1033.7 417.9,1031.2 418.6,1042.6 419.2,1034.9 419.8,1026.5 420.4,1022.9 421.0,1011.4 421.6,1009.3 422.3,1011.7 422.9,1007.7 423.5,1013.8 424.1,1028.7 424.7,1023.8 425.4,1010.9 426.0,1004.0 426.6,1007.4 427.2,1002.1 427.9,1009.2 428.5,1003.6 429.1,1009.3 429.7,1005.2 430.3,1007.3 430.9,1011.9 431.5,1009.4 432.1,1015.1 432.7,1017.6 433.4,1003.8 434.0,1005.1 434.6,1000.3 435.2,1015.7 435.9,1039.9 436.5,1037.7 437.1,1024.3 437.7,1021.3 438.3,1031.5 438.9,1023.3 439.6,1034.0 440.2,1037.4 440.8,1041.1 441.4,1046.9 442.0,1051.0 442.6,1046.5 443.2,1051.2 443.9,1046.3 444.5,1049.2 445.1,1043.6 445.7,1047.6 446.4,1057.4 447.0,1060.2 447.6,1068.3 448.2,1062.3 448.9,1049.8 449.5,1051.3 450.1,1041.1 451.0,1050.9 451.9,1063.4 452.5,1068.4 453.1,1066.0 453.8,1076.9 454.4,1077.9 455.0,1083.2 455.6,1085.5 456.2,1076.9 456.9,1081.0 457.5,1078.2 458.1,1072.4 458.8,1078.3 459.4,1071.9 460.0,1070.8 460.6,1077.7 461.2,1074.7 461.8,1088.1 462.4,1091.5 463.1,1086.4 463.7,1090.6 464.3,1096.8" fill="none" stroke="#ff0000" stroke-width="1.45" stroke-linejoin="round" stroke-linecap="round" opacity="1.0"/>
<polyline points="82.4,939.1 83.1,930.9 83.7,926.7 84.3,926.1 85.0,916.8 85.8,907.3 86.7,902.0 87.3,896.2 88.0,888.3 88.6,883.4 89.2,886.7 89.9,887.9 90.5,892.0 91.1,894.8 91.7,893.3 92.3,886.8 93.0,884.3 93.6,877.3 94.2,882.0 94.8,889.6 95.4,900.3 96.0,908.2 96.7,900.5 97.3,895.8 97.9,897.8 98.5,894.1 99.1,899.6 99.7,900.8 100.3,900.8 101.0,903.5 101.6,902.0 102.2,904.3 102.9,911.4 103.5,911.9 104.1,906.1 104.7,908.6 105.3,903.1 105.9,902.0 106.5,911.5 107.2,912.3 107.8,924.3 108.7,931.5 109.6,934.2 110.2,932.7 110.8,942.1 111.5,939.6 112.1,946.5 112.7,946.3 113.3,937.8 114.0,942.0 114.6,935.4 115.2,938.8 115.8,943.1 116.4,940.1 117.0,950.2 117.6,945.3 118.3,938.4 118.9,934.2 119.5,932.4 120.2,926.2 120.8,924.8 121.4,920.5 122.2,923.8 123.0,932.4 123.8,931.7 124.4,929.2 125.1,929.6 125.7,926.7 126.3,918.0 127.0,919.4 127.6,911.9 128.2,913.3 128.8,924.9 129.4,924.3 130.0,922.6 130.7,930.9 131.3,927.2 131.9,931.7 132.5,939.6 133.2,936.7 133.8,945.8 134.4,944.0 135.0,942.7 135.6,947.8 136.2,939.8 136.8,944.0 137.4,945.7 138.1,940.7 138.7,946.5 139.3,946.1 139.9,939.6 140.5,939.1 141.1,938.2 141.8,935.7 142.4,934.2 143.0,968.8 143.6,968.0 144.2,963.5 144.9,962.3 145.5,960.1 146.1,961.5 146.8,965.9 147.4,965.4 148.0,971.2 148.6,964.0 149.2,951.4 149.8,950.3 150.4,941.6 151.0,932.5 151.7,933.5 152.3,929.2 152.9,931.7 153.6,941.4 154.2,946.5 154.8,948.0 155.4,958.8 156.0,956.7 156.6,962.6 157.2,965.5 157.8,963.7 158.4,966.0 159.1,964.3 159.7,970.6 160.3,968.8 160.9,964.7 161.6,968.2 162.2,964.5 162.8,966.3 163.4,967.8 164.1,954.7 164.7,960.7 165.3,950.2 165.9,950.0 166.6,956.0 167.2,958.1 167.8,961.4 168.6,950.2 169.4,937.5 170.2,926.7 170.8,928.1 171.4,919.5 172.1,924.4 172.7,915.9 173.3,915.6 173.9,940.7 174.6,961.4 175.2,954.5 175.8,957.1 176.4,953.9 177.0,954.8 177.7,959.7 178.3,955.6 178.9,960.1 179.5,952.1 180.2,939.9 180.8,933.3 181.4,921.8 182.0,918.4 182.6,919.8 183.2,913.2 183.8,913.1 184.4,917.7 185.1,915.1 185.7,926.7 186.3,934.8 186.9,939.8 187.5,950.2 188.1,949.4 188.8,939.8 189.4,938.3 190.0,931.7 190.6,938.0 191.3,949.8 191.9,953.9 192.5,954.9 193.1,965.4 193.7,961.9 194.3,970.0 194.9,976.0 195.6,977.5 196.2,984.9 196.8,993.2 197.5,995.1 198.1,1003.4 198.7,1003.2 199.3,1000.0 199.9,1000.9 200.5,999.4 201.2,994.7 201.8,998.0 202.4,994.8 203.0,994.7 203.7,1003.5 204.3,999.1 204.9,1004.6 205.5,1005.3 206.1,999.4 206.8,1003.3 207.4,998.5 208.0,1001.7 208.6,997.2 209.2,991.1 209.8,988.1 210.4,981.1 211.1,980.5 211.8,985.3 212.5,983.6 213.1,982.9 213.7,983.6 214.3,981.5 214.9,981.2 215.5,985.5 216.2,987.7 216.8,998.0 217.4,996.0 218.0,997.1 218.7,1003.0 219.3,1001.4 219.9,1005.9 220.8,1000.1 221.7,986.1 222.3,990.4 222.9,999.3 223.6,1003.8 224.2,1010.9 224.8,1007.0 225.4,996.9 226.1,994.1 226.7,981.3 227.3,978.7 227.9,996.4 228.6,1004.7 229.2,1000.5 229.8,1003.9 230.4,1000.5 231.0,1001.1 231.6,999.8 232.2,998.1 232.9,1002.1 233.5,996.1 234.1,999.5 234.8,995.2 235.4,997.3 236.0,1000.3 236.6,997.7 237.2,1009.0 237.8,1008.4 238.4,1004.8 239.1,1007.5 239.7,1005.5 240.3,1005.9 240.9,1004.3 241.5,1000.4 242.2,1000.7 242.8,996.8 243.4,994.8 244.0,998.0 244.7,996.4 245.3,1003.2 245.9,1005.9 246.5,998.5 247.1,1005.6 247.7,994.0 248.3,996.0 248.9,998.2 249.6,994.5 250.2,994.6 250.8,993.6 251.4,992.9 252.1,994.9 252.7,992.5 253.3,992.3 253.9,992.1 254.6,984.3 255.2,988.1 255.8,984.9 256.6,978.4 257.4,979.1 258.2,968.8 258.8,965.9 259.4,964.3 260.1,957.7 260.7,957.7 261.3,963.5 262.0,957.6 262.6,966.3 263.5,963.5 264.4,957.7 265.0,961.9 265.6,973.1 266.3,970.6 266.9,975.0 267.5,973.8 268.1,968.1 268.8,970.7 269.4,968.8 270.0,967.5 270.6,968.1 271.2,966.3 271.9,943.7 272.5,924.3 273.7,954.0 274.9,971.3 275.5,973.0 276.1,964.3 276.8,969.2 277.4,962.6 278.0,965.8 278.7,970.9 279.3,975.0 279.9,970.6 280.5,973.4 281.1,968.8 281.7,969.7 282.4,979.3 283.0,982.4 283.8,978.3 284.6,983.6 285.4,978.7 286.0,977.2 286.6,983.4 287.3,979.6 287.9,982.4 288.5,985.8 289.1,981.9 289.8,989.8 290.4,983.9 291.0,991.2 291.6,991.1 292.2,992.0 292.8,997.7 293.5,993.2 294.1,1005.2 294.7,1004.1 295.3,1008.4 295.9,1002.8 296.6,986.1 297.2,977.5 297.8,986.0 298.4,983.4 299.0,993.6 299.6,992.4 300.2,988.1 300.9,989.3 301.5,986.1 302.1,983.1 302.8,992.2 303.4,988.9 304.0,993.6 304.6,990.2 305.2,976.8 305.9,978.3 306.5,968.8 307.3,963.5 308.1,961.7 308.9,955.2 309.5,951.9 310.1,952.8 310.8,948.5 311.4,950.3 312.0,954.1 312.6,952.4 313.3,961.7 313.9,958.9 314.5,945.9 315.1,943.7 315.7,934.2 316.4,899.5 317.0,868.7 317.6,878.9 318.2,877.5 318.8,884.7 319.4,888.5 320.1,887.7 320.7,893.4 321.9,909.5 322.5,923.6 323.2,927.8 323.8,940.4 325.0,963.9 325.6,974.1 326.3,973.1 326.9,978.7 327.5,981.7 328.1,978.4 328.7,984.9 329.3,984.2 329.9,979.1 330.6,982.4 331.2,974.3 331.8,973.8 332.4,979.8 333.1,981.2 333.7,992.0 334.3,994.8 335.1,992.7 335.9,994.4 336.7,993.6 337.3,994.4 337.9,999.8 338.6,995.6 339.2,997.3 339.8,1002.8 340.4,998.7 341.1,1007.9 341.7,1007.9 342.3,1010.9 342.9,1010.7 343.5,1001.9 344.1,1007.4 344.8,1000.3 345.4,1002.7 346.0,998.5 346.7,993.0 347.4,995.0 348.0,991.8 348.7,990.4 349.3,992.9 349.9,990.5 350.5,996.8 351.1,994.1 351.7,994.9 352.3,1002.6 353.0,1000.4 353.6,1007.7 354.2,1008.9 354.8,1009.9 355.4,1012.5 356.1,1010.9 356.7,1014.9 357.3,1016.4 357.9,1011.3 358.6,1014.3 359.2,1009.5 359.8,1007.7 360.4,1011.0 361.1,1009.4 361.7,1014.6 362.3,1015.1 362.9,1010.9 363.5,1007.8 364.1,996.2 364.8,1002.0 365.4,994.6 366.0,992.9 367.2,1017.6 367.8,1021.7 368.4,1019.5 369.1,1024.0 369.7,1025.0 370.3,1025.1 370.9,1028.9 371.6,1022.7 372.2,1027.5 372.8,1029.0 373.4,1024.7 374.0,1033.6 374.7,1027.5 375.3,1028.2 375.9,1027.5 376.5,1029.2 377.1,1033.4 377.7,1033.3 378.3,1036.2 378.9,1037.8 379.6,1033.7 380.2,1041.7 380.8,1041.1 381.4,1034.8 382.0,1042.3 382.7,1039.6 383.3,1040.6 383.9,1039.9 384.5,1038.2 385.1,1042.4 385.8,1036.5 386.4,1046.3 387.0,1042.3 387.6,1041.9 388.2,1045.2 388.9,1037.6 389.5,1046.5 390.1,1040.0 390.7,1041.1 391.3,1042.7 391.9,1038.4 392.6,1039.7 393.2,1038.6 393.8,1031.1 394.4,1041.0 395.1,1039.4 395.7,1039.9 396.3,1037.5 396.9,1033.6 397.5,1033.0 398.1,1027.5 398.7,1019.5 399.4,1023.9 400.0,1016.9 400.6,1013.9 401.2,1018.6 401.9,1021.0 402.5,1030.0 403.1,1030.0 403.7,1026.5 404.3,1038.1 405.0,1031.7 405.6,1034.6 406.2,1035.0 406.8,1036.2 407.4,1041.7 408.1,1034.0 408.7,1036.3 409.3,1033.7 409.9,1023.1 410.5,1022.2 411.2,1011.1 411.8,1007.4 412.4,999.1 413.0,1046.0 413.6,1041.8 414.2,1039.1 414.8,1033.7 415.4,1035.2 416.1,1040.0 416.7,1042.8 417.3,1046.0 417.9,1047.0 418.5,1044.9 419.2,1044.9 419.8,1043.7 420.4,1043.6 421.0,1047.4 421.6,1042.1 422.3,1051.4 422.9,1052.2 423.5,1050.1 424.1,1056.1 424.8,1045.5 425.4,1052.1 426.0,1045.2 426.6,1046.0 427.4,1048.2 428.2,1041.1 429.0,1046.0 429.6,1052.4 430.2,1050.0 430.9,1058.0 431.5,1055.7 432.1,1060.9 432.7,1060.1 433.3,1056.6 434.0,1059.1 434.6,1054.0 435.2,1053.5 435.9,1061.3 436.5,1067.1 437.1,1067.9 437.8,1069.8 438.4,1069.1 439.0,1070.8 439.8,1078.1 440.6,1075.8 441.4,1083.2 442.0,1088.0 442.6,1084.2 443.2,1087.7 443.9,1084.5 444.5,1088.0 445.1,1086.9 445.7,1086.7 446.3,1091.0 447.0,1088.5 447.6,1093.7 448.2,1089.7 448.8,1093.1 449.4,1100.4 450.1,1092.0 450.7,1104.3 451.3,1101.7 451.9,1093.8 452.6,1098.1 453.2,1092.5 453.8,1090.6 454.4,1093.9 455.0,1091.9 455.7,1096.1 456.3,1097.4 456.9,1099.2 457.5,1099.7 458.1,1091.5 458.8,1101.5 459.4,1088.3 460.0,1093.1 460.6,1091.8 461.5,1093.1 462.4,1098.0 463.0,1097.4 463.7,1094.3" fill="none" stroke="#4472c4" stroke-width="1.45" stroke-linejoin="round" stroke-linecap="round" opacity="1.0"/>
<line x1="70.5" y1="1091" x2="101.3" y2="1091" stroke="#ff0000" stroke-width="1.1"/>
<text x="106.2" y="1095.9" text-anchor="start" fill="#5e5e5e" font-size="13" font-family="'Liberation Sans', sans-serif" font-weight="normal" textLength="120.8" lengthAdjust="spacingAndGlyphs">CRM 18 Implied Vol</text>
<line x1="251.1" y1="1091" x2="282.2" y2="1091" stroke="#4472c4" stroke-width="1.1"/>
<text x="286.9" y="1095.9" text-anchor="start" fill="#5e5e5e" font-size="13" font-family="'Liberation Sans', sans-serif" font-weight="normal" textLength="93.5" lengthAdjust="spacingAndGlyphs">Cumulative PnL</text>
<rect x="690.5" y="825.5" width="485.5" height="304.5" fill="none" stroke="#3a3a3a" stroke-width="1.3"/>
<text x="675" y="830.0" text-anchor="end" fill="#5e5e5e" font-size="13" font-family="'Liberation Sans', sans-serif" font-weight="normal">55000000</text>
<text x="675" y="890.9" text-anchor="end" fill="#5e5e5e" font-size="13" font-family="'Liberation Sans', sans-serif" font-weight="normal">50000000</text>
<text x="675" y="951.8" text-anchor="end" fill="#5e5e5e" font-size="13" font-family="'Liberation Sans', sans-serif" font-weight="normal">45000000</text>
<text x="675" y="1012.7" text-anchor="end" fill="#5e5e5e" font-size="13" font-family="'Liberation Sans', sans-serif" font-weight="normal">40000000</text>
<text x="675" y="1073.6" text-anchor="end" fill="#5e5e5e" font-size="13" font-family="'Liberation Sans', sans-serif" font-weight="normal">35000000</text>
<text x="675" y="1134.5" text-anchor="end" fill="#5e5e5e" font-size="13" font-family="'Liberation Sans', sans-serif" font-weight="normal">30000000</text>
<text x="690.5" y="1154" text-anchor="middle" fill="#5e5e5e" font-size="13" font-family="'Liberation Sans', sans-serif" font-weight="normal">May-13</text>
<text x="771.4" y="1154" text-anchor="middle" fill="#5e5e5e" font-size="13" font-family="'Liberation Sans', sans-serif" font-weight="normal">Aug-13</text>
<text x="852.3" y="1154" text-anchor="middle" fill="#5e5e5e" font-size="13" font-family="'Liberation Sans', sans-serif" font-weight="normal">Nov-13</text>
<text x="933.2" y="1154" text-anchor="middle" fill="#5e5e5e" font-size="13" font-family="'Liberation Sans', sans-serif" font-weight="normal">Mar-14</text>
<text x="1014.2" y="1154" text-anchor="middle" fill="#5e5e5e" font-size="13" font-family="'Liberation Sans', sans-serif" font-weight="normal">Jun-14</text>
<text x="1095.1" y="1154" text-anchor="middle" fill="#5e5e5e" font-size="13" font-family="'Liberation Sans', sans-serif" font-weight="normal">Sep-14</text>
<text x="1176.0" y="1154" text-anchor="middle" fill="#5e5e5e" font-size="13" font-family="'Liberation Sans', sans-serif" font-weight="normal">Dec-14</text>
<polyline points="783.3,843.7 794.7,843.7 795.0,885.8 806.3,885.8 809.2,890.8 819.2,890.8 821.3,892.2 833.0,892.2 834.2,873.0 845.3,873.0 846.7,855.5 855.8,855.5 857.0,874.7 868.0,874.7 869.7,883.0 882.0,883.0 883.3,895.8 894.7,895.8 895.8,871.7 907.0,871.7 908.3,916.3 919.2,916.3 920.0,942.5 930.8,942.5 932.5,950.8 941.7,950.8 943.0,929.7 954.2,929.7 957.0,937.1 967.7,937.1 969.0,962.4 980.1,962.4 981.4,946.0 991.3,946.0 993.0,960.0 1003.7,960.0 1005.0,968.3 1015.7,968.3 1016.6,963.1 1028.1,963.1 1030.3,987.3 1041.4,987.3 1042.7,999.6 1053.9,999.6 1055.7,1011.3 1066.3,1011.3 1067.7,1039.6 1077.7,1039.6 1079.3,1043.7 1090.7,1043.7 1092.3,1052.0 1100.3,1052.0" fill="none" stroke="#4472c4" stroke-width="2.0" stroke-linejoin="round" stroke-linecap="round" opacity="1.0"/>
<polygon points="935.8,930.8 939.0,944.3 950.8,947.5 939.0,950.7 935.8,964.2 932.6,950.7 920.8,947.5 932.6,944.3" fill="#ff0000"/>
<line x1="737.1" y1="1099" x2="770.4" y2="1099" stroke="#4472c4" stroke-width="2.0"/>
<text x="773.5" y="1102.6" text-anchor="start" fill="#5e5e5e" font-size="13" font-family="'Liberation Sans', sans-serif" font-weight="normal" textLength="138.3" lengthAdjust="spacingAndGlyphs">CRM-US Short Interest</text>
<text y="1199.1" font-family="'Liberation Serif', serif" font-size="29" fill="#000"><tspan x="618.7">(</tspan><tspan x="628.5" font-weight="bold">c</tspan><tspan x="640.6">)</tspan></text>
<rect x="33.5" y="1256.5" width="492.0" height="290.5" fill="none" stroke="#3a3a3a" stroke-width="1.3"/>
<text x="19.5" y="1274.1" text-anchor="end" fill="#d9363e" font-size="13" font-family="'Liberation Sans', sans-serif" font-weight="normal">65</text>
<text x="19.5" y="1343.5" text-anchor="end" fill="#d9363e" font-size="13" font-family="'Liberation Sans', sans-serif" font-weight="normal">60</text>
<text x="19.5" y="1412.9" text-anchor="end" fill="#d9363e" font-size="13" font-family="'Liberation Sans', sans-serif" font-weight="normal">55</text>
<text x="19.5" y="1482.2" text-anchor="end" fill="#d9363e" font-size="13" font-family="'Liberation Sans', sans-serif" font-weight="normal">50</text>
<text x="19.5" y="1551.6" text-anchor="end" fill="#d9363e" font-size="13" font-family="'Liberation Sans', sans-serif" font-weight="normal">45</text>
<line x1="525.5" y1="1288" x2="530" y2="1288" stroke="#3a3a3a" stroke-width="1.3"/>
<text x="539" y="1292.6" text-anchor="start" fill="#5272bd" font-size="13" font-family="'Liberation Sans', sans-serif" font-weight="normal">700,000</text>
<line x1="525.5" y1="1352.75" x2="530" y2="1352.75" stroke="#3a3a3a" stroke-width="1.3"/>
<text x="539" y="1357.3" text-anchor="start" fill="#5272bd" font-size="13" font-family="'Liberation Sans', sans-serif" font-weight="normal">500,000</text>
<line x1="525.5" y1="1417.5" x2="530" y2="1417.5" stroke="#3a3a3a" stroke-width="1.3"/>
<text x="539" y="1422.1" text-anchor="start" fill="#5272bd" font-size="13" font-family="'Liberation Sans', sans-serif" font-weight="normal">300,000</text>
<line x1="525.5" y1="1482.25" x2="530" y2="1482.25" stroke="#3a3a3a" stroke-width="1.3"/>
<text x="539" y="1486.8" text-anchor="start" fill="#5272bd" font-size="13" font-family="'Liberation Sans', sans-serif" font-weight="normal">100,000</text>
<line x1="525.5" y1="1547" x2="530" y2="1547" stroke="#3a3a3a" stroke-width="1.3"/>
<text x="539" y="1551.6" text-anchor="start" fill="#5272bd" font-size="13" font-family="'Liberation Sans', sans-serif" font-weight="normal">-100,000</text>
<text x="33.5" y="1570" text-anchor="middle" fill="#5e5e5e" font-size="13" font-family="'Liberation Sans', sans-serif" font-weight="normal">Dec-17</text>
<text x="103.8" y="1570" text-anchor="middle" fill="#5e5e5e" font-size="13" font-family="'Liberation Sans', sans-serif" font-weight="normal">Feb-18</text>
<text x="174.1" y="1570" text-anchor="middle" fill="#5e5e5e" font-size="13" font-family="'Liberation Sans', sans-serif" font-weight="normal">Apr-18</text>
<text x="244.4" y="1570" text-anchor="middle" fill="#5e5e5e" font-size="13" font-family="'Liberation Sans', sans-serif" font-weight="normal">May-18</text>
<text x="314.6" y="1570" text-anchor="middle" fill="#5e5e5e" font-size="13" font-family="'Liberation Sans', sans-serif" font-weight="normal">Jul-18</text>
<text x="384.9" y="1570" text-anchor="middle" fill="#5e5e5e" font-size="13" font-family="'Liberation Sans', sans-serif" font-weight="normal">Sep-18</text>
<text x="455.2" y="1570" text-anchor="middle" fill="#5e5e5e" font-size="13" font-family="'Liberation Sans', sans-serif" font-weight="normal">Oct-18</text>
<text x="525.5" y="1570" text-anchor="middle" fill="#5e5e5e" font-size="13" font-family="'Liberation Sans', sans-serif" font-weight="normal">Dec-18</text>
<polyline points="97.5,1489.5 99.4,1510.9 103.0,1509.0 106.2,1507.7 108.2,1500.5 110.8,1504.4 114.7,1509.6 117.9,1487.5 121.2,1490.1 123.8,1491.4 125.1,1475.8 126.4,1473.2 128.3,1444.7 130.3,1442.0 133.5,1438.2 135.5,1431.7 136.8,1444.7 139.4,1448.6 141.9,1451.2 144.5,1460.3 147.1,1455.1 149.1,1439.5 152.3,1449.9 154.9,1439.5 157.5,1426.5 160.8,1429.1 162.7,1427.8 164.7,1405.7 167.9,1423.9 170.2,1415.9 172.5,1408.3 175.7,1416.1 179.0,1420.0 182.2,1416.1 183.5,1403.1 185.5,1410.9 188.1,1399.2 190.0,1397.9 192.6,1387.5 193.9,1371.9 195.2,1353.8 196.5,1387.5 197.8,1366.8 199.7,1359.0 201.7,1349.9 204.3,1353.8 206.9,1351.2 209.5,1356.4 211.8,1356.2 214.0,1355.7 217.9,1366.1 221.8,1367.4 223.8,1387.5 226.4,1392.7 229.3,1399.5 231.8,1404.4 234.2,1409.4 235.6,1419.3 237.7,1415.1 240.6,1418.0 243.1,1422.8 245.5,1426.4 247.7,1415.1 251.2,1432.1 253.3,1422.0 255.5,1436.3 257.6,1412.2 261.1,1412.2 262.5,1429.2 264.0,1422.0 266.1,1433.5 268.6,1424.2 271.0,1415.1 273.9,1432.1 276.7,1425.0 280.2,1413.7 282.4,1425.0 284.5,1400.9 287.3,1399.5 290.9,1372.6 294.4,1367.6 297.2,1369.4 300.1,1371.2 302.9,1385.3 305.7,1408.0 307.9,1412.0 310.0,1416.5 312.8,1430.7 315.7,1432.1 317.8,1432.7 319.9,1432.1 322.7,1453.3 325.6,1427.8 328.1,1430.6 330.5,1433.5 334.1,1464.7 336.2,1454.1 338.3,1443.4 340.5,1434.5 342.6,1426.4 345.4,1416.5 347.5,1409.4 349.7,1400.9 351.8,1420.7 354.6,1432.1 357.1,1427.6 359.6,1423.6 361.7,1412.2 364.5,1416.5 367.4,1417.2 370.2,1416.5 373.0,1399.5 376.6,1392.4 380.1,1378.2 382.2,1386.8 385.0,1380.7 387.9,1375.4 390.7,1393.8 391.5,1422.0 394.0,1413.0 396.0,1414.8 398.0,1416.0 401.0,1419.0 403.5,1422.0 405.0,1420.0 407.5,1415.0 411.0,1427.0 413.5,1430.0 417.0,1452.0 420.5,1453.0 422.0,1432.0 423.5,1433.0 426.2,1429.7 429.0,1427.0 430.5,1410.0 432.5,1450.0 435.0,1448.0 437.0,1438.0 439.5,1463.0 441.5,1448.7 443.5,1434.0 446.5,1436.0 449.0,1435.0 451.0,1447.0 453.5,1476.0 457.0,1428.0 459.5,1448.0 462.5,1501.0 465.0,1499.0 467.5,1498.0 471.0,1533.0 472.5,1502.0 474.0,1503.0 476.5,1514.0 479.0,1463.0 481.0,1454.0 482.5,1500.0 485.0,1497.0 488.0,1475.0 489.5,1503.0 493.0,1500.0 496.5,1487.0 497.5,1488.0" fill="none" stroke="#ff0000" stroke-width="1.25" stroke-linejoin="round" stroke-linecap="round" opacity="1.0"/>
<polyline points="97.5,1514.2 99.4,1527.8 103.0,1518.7 106.2,1512.2 108.2,1504.4 110.8,1504.4 113.0,1507.1 115.3,1510.9 117.9,1484.9 121.2,1488.3 124.0,1489.5 125.3,1457.7 127.0,1456.4 128.7,1408.3 130.9,1397.9 134.2,1388.8 135.5,1397.9 136.1,1375.8 137.4,1397.9 139.4,1394.0 141.9,1403.1 144.5,1417.4 147.1,1420.0 149.1,1413.5 152.3,1423.9 154.9,1410.9 157.5,1396.6 159.8,1400.3 162.1,1401.8 164.7,1375.8 168.6,1400.5 172.5,1378.4 175.7,1384.9 179.0,1388.8 182.2,1384.9 184.2,1364.2 185.5,1383.6 187.4,1371.9 188.7,1377.1 192.6,1369.4 194.5,1331.0 195.8,1371.9 197.8,1359.0 200.4,1351.2 202.0,1345.3 204.3,1359.0 206.9,1356.4 209.5,1359.0 211.8,1358.2 214.0,1357.7 217.9,1375.2 221.8,1373.2 223.8,1397.9 226.0,1402.0 228.3,1406.8 230.7,1410.8 234.2,1417.9 235.6,1426.4 238.5,1416.5 240.6,1416.2 242.7,1416.5 245.5,1425.0 247.7,1409.4 250.5,1427.8 252.6,1422.0 255.0,1437.0 257.6,1412.2 261.1,1412.2 262.1,1432.1 264.7,1436.3 267.5,1430.7 271.0,1416.5 273.9,1434.9 276.7,1426.4 279.5,1416.5 282.4,1426.4 284.5,1410.8 287.3,1402.3 290.2,1388.9 292.6,1387.2 295.1,1385.3 297.6,1385.0 300.1,1386.0 302.9,1399.5 305.7,1419.3 307.9,1424.1 310.0,1427.8 312.8,1444.8 314.2,1437.7 317.8,1447.7 319.9,1449.1 321.3,1467.5 323.5,1463.2 325.6,1442.0 328.1,1444.0 330.5,1446.2 334.1,1444.8 336.2,1443.4 338.3,1442.0 340.8,1441.8 343.3,1440.6 344.7,1416.5 347.2,1409.3 349.7,1403.7 351.1,1430.7 354.6,1433.5 357.1,1430.0 359.6,1425.0 361.0,1413.7 362.4,1425.0 363.8,1413.7 365.2,1417.9 367.4,1417.9 369.5,1418.6 370.9,1416.5 373.0,1404.6 375.1,1391.0 377.6,1384.2 380.1,1377.5 381.5,1389.6 383.6,1386.0 385.8,1381.9 387.9,1378.2 390.0,1392.4 391.5,1427.0 393.0,1420.0 395.0,1425.2 397.0,1429.0 400.5,1438.0 403.5,1448.0 406.0,1446.0 407.5,1441.0 409.5,1446.0 412.5,1441.0 414.5,1450.0 417.5,1457.0 420.0,1455.0 421.0,1463.0 423.0,1448.0 425.0,1451.0 428.5,1447.0 431.0,1435.0 433.0,1456.0 435.0,1453.0 437.0,1450.0 439.5,1475.0 442.0,1460.0 444.0,1460.2 446.0,1460.0 448.2,1454.8 450.5,1450.0 452.0,1446.0 455.0,1420.0 457.0,1402.0 459.5,1420.0 463.0,1488.0 465.0,1489.1 467.0,1489.0 469.0,1497.7 471.0,1508.0 473.0,1476.0 476.5,1468.0 479.0,1448.0 480.5,1456.0 482.0,1482.0 484.5,1473.7 487.0,1463.0 489.5,1485.0 491.5,1484.9 493.5,1485.0 496.5,1483.0 497.5,1488.0" fill="none" stroke="#4472c4" stroke-width="1.25" stroke-linejoin="round" stroke-linecap="round" opacity="1.0"/>
<line x1="84" y1="1288" x2="115" y2="1288" stroke="#ff0000" stroke-width="1.1"/>
<text x="118.9" y="1292.3" text-anchor="start" fill="#5e5e5e" font-size="13" font-family="'Liberation Sans', sans-serif" font-weight="normal" textLength="118.8" lengthAdjust="spacingAndGlyphs">WDC 24 Implied Vol</text>
<line x1="243" y1="1288" x2="274.4" y2="1288" stroke="#4472c4" stroke-width="1.1"/>
<text x="279" y="1292.3" text-anchor="start" fill="#5e5e5e" font-size="13" font-family="'Liberation Sans', sans-serif" font-weight="normal" textLength="91.8" lengthAdjust="spacingAndGlyphs">Cumulative PnL</text>
<rect x="698.5" y="1245" width="475.5" height="307" fill="none" stroke="#3a3a3a" stroke-width="1.3"/>
<text x="684" y="1249.5" text-anchor="end" fill="#5e5e5e" font-size="13" font-family="'Liberation Sans', sans-serif" font-weight="normal">15,000,000</text>
<text x="684" y="1300.7" text-anchor="end" fill="#5e5e5e" font-size="13" font-family="'Liberation Sans', sans-serif" font-weight="normal">13,000,000</text>
<text x="684" y="1351.8" text-anchor="end" fill="#5e5e5e" font-size="13" font-family="'Liberation Sans', sans-serif" font-weight="normal">11,000,000</text>
<text x="684" y="1403.0" text-anchor="end" fill="#5e5e5e" font-size="13" font-family="'Liberation Sans', sans-serif" font-weight="normal">9,000,000</text>
<text x="684" y="1454.2" text-anchor="end" fill="#5e5e5e" font-size="13" font-family="'Liberation Sans', sans-serif" font-weight="normal">7,000,000</text>
<text x="684" y="1505.3" text-anchor="end" fill="#5e5e5e" font-size="13" font-family="'Liberation Sans', sans-serif" font-weight="normal">5,000,000</text>
<text x="684" y="1556.5" text-anchor="end" fill="#5e5e5e" font-size="13" font-family="'Liberation Sans', sans-serif" font-weight="normal">3,000,000</text>
<text x="698.5" y="1575" text-anchor="middle" fill="#5e5e5e" font-size="13" font-family="'Liberation Sans', sans-serif" font-weight="normal">Apr-17</text>
<text x="777.8" y="1575" text-anchor="middle" fill="#5e5e5e" font-size="13" font-family="'Liberation Sans', sans-serif" font-weight="normal">Aug-17</text>
<text x="857.0" y="1575" text-anchor="middle" fill="#5e5e5e" font-size="13" font-family="'Liberation Sans', sans-serif" font-weight="normal">Nov-17</text>
<text x="936.2" y="1575" text-anchor="middle" fill="#5e5e5e" font-size="13" font-family="'Liberation Sans', sans-serif" font-weight="normal">Feb-18</text>
<text x="1015.5" y="1575" text-anchor="middle" fill="#5e5e5e" font-size="13" font-family="'Liberation Sans', sans-serif" font-weight="normal">May-18</text>
<text x="1094.8" y="1575" text-anchor="middle" fill="#5e5e5e" font-size="13" font-family="'Liberation Sans', sans-serif" font-weight="normal">Sep-18</text>
<text x="1174.0" y="1575" text-anchor="middle" fill="#5e5e5e" font-size="13" font-family="'Liberation Sans', sans-serif" font-weight="normal">Dec-18</text>
<polyline points="752.5,1482.5 760.8,1482.5 762.0,1493.8 772.5,1493.8 775.5,1520.0 786.7,1520.0 787.5,1483.3 799.2,1483.3 800.0,1424.7 810.8,1424.7 812.0,1444.2 822.0,1444.2 823.3,1388.3 832.0,1388.3 833.7,1396.7 847.0,1396.7 848.7,1440.8 859.7,1440.8 860.8,1389.7 871.3,1389.7 872.5,1402.5 883.0,1402.5 884.2,1362.2 893.8,1362.2 895.0,1354.5 905.3,1354.5 906.3,1291.3 920.3,1291.3 921.7,1382.5 933.3,1383.0 933.3,1406.7 942.5,1406.7 943.7,1416.7 954.2,1416.7 955.8,1413.0 965.3,1413.0 966.7,1433.3 977.5,1433.3 978.7,1418.3 990.0,1418.3 991.7,1475.5 1003.3,1475.5 1003.7,1412.5 1015.0,1412.5 1016.7,1397.5 1028.3,1397.5 1028.7,1426.3 1038.7,1426.3 1040.0,1422.2 1076.2,1422.2 1076.7,1397.5 1089.7,1397.5" fill="none" stroke="#4472c4" stroke-width="2.0" stroke-linejoin="round" stroke-linecap="round" opacity="1.0"/>
<polygon points="934.6,1366.5 937.8,1380.0 949.1,1383.2 937.8,1386.4 934.6,1399.9 931.4,1386.4 920.1,1383.2 931.4,1380.0" fill="#ff0000"/>
<line x1="989.2" y1="1266.9" x2="1022" y2="1266.9" stroke="#4472c4" stroke-width="2.0"/>
<text x="1024.3" y="1271.3" text-anchor="start" fill="#5e5e5e" font-size="13" font-family="'Liberation Sans', sans-serif" font-weight="normal" textLength="135.4" lengthAdjust="spacingAndGlyphs">WDC-US short interest</text>
<text y="1612.1" font-family="'Liberation Serif', serif" font-size="29" fill="#000"><tspan x="585">(</tspan><tspan x="594.8" font-weight="bold">d</tspan><tspan x="612.1">)</tspan></text>
</svg>
</body></html>
